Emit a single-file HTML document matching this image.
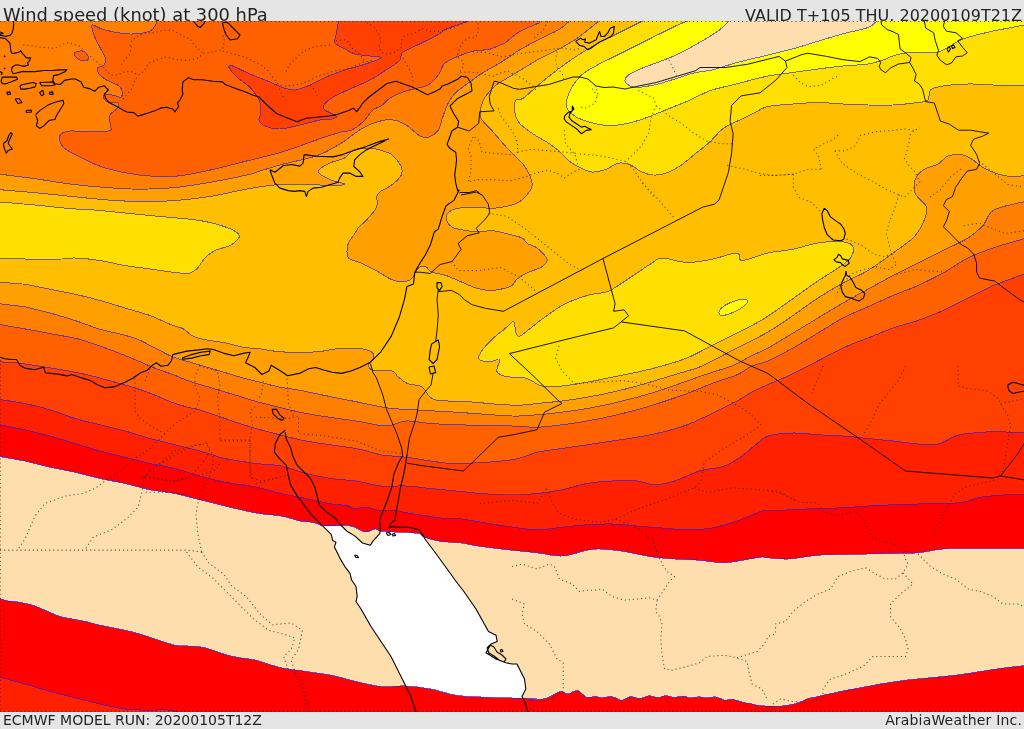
<!DOCTYPE html>
<html><head><meta charset="utf-8"><title>Wind speed (knot) at 300 hPa</title>
<style>
html,body{margin:0;padding:0;background:#e5e5e5;width:1024px;height:729px;overflow:hidden}
.wrap{position:relative;width:1024px;height:729px;background:#e5e5e5;font-family:"DejaVu Sans","Liberation Sans",sans-serif;color:#222}
.t{position:absolute;white-space:nowrap;line-height:1}
svg{position:absolute;left:0;top:0}
</style></head><body><div class="wrap">
<div class="t" style="left:3px;top:6px;font-size:17.85px">Wind speed (knot) at 300 hPa</div>
<div class="t" style="right:2px;top:8px;font-size:16px">VALID T+105 THU. 20200109T21Z</div>
<div class="t" style="left:3px;top:713px;font-size:14px">ECMWF MODEL RUN: 20200105T12Z</div>
<div class="t" style="right:2px;top:713px;font-size:14px;letter-spacing:0.17px">ArabiaWeather Inc.</div>

<svg width="1024" height="729" viewBox="0 0 1024 729">
<defs><clipPath id="m"><rect x="0" y="21" width="1024" height="691"/></clipPath>
<clipPath id="c10"><path d="M-6 455.5L25 461C29.2 462 41.7 465.4 50 467.2C58.3 469.1 66.7 470.4 75 472.2C83.3 474.1 91.7 476.6 100 478.5C108.3 480.4 116.7 481.6 125 483.5C133.3 485.4 141.7 488.1 150 489.8C158.3 491.4 166.7 491.8 175 493.5C183.3 495.2 191.7 497.7 200 499.8C208.3 501.8 215.7 503.8 225 506C234.3 508.2 246.7 511.3 256 513C265.3 514.7 273.7 514.7 281 516C288.3 517.3 295.3 520 300 521C304.7 522 306.8 521.5 309.4 521.9C312 522.2 313.3 522.5 315.6 523.1C317.9 523.8 319.5 525.3 323.4 525.8C327.3 526.2 335.1 525.9 339 525.8C342.9 525.7 344.3 525 346.9 525.3C349.5 525.5 351.6 526.2 354.7 527.3C357.8 528.4 362.2 531.7 365.6 532C369 532.3 372.4 529 375 528.9C377.6 528.8 378.1 530.7 381.2 531.2C384.4 531.8 389.1 531.7 393.8 532C398.4 532.3 405.2 532.5 409.4 532.8C413.6 533.1 416.1 532.8 418.8 533.6C421.4 534.4 421.4 536.2 425 537.5C428.6 538.8 434.8 540.5 440.6 541.4C446.4 542.3 453.3 541.9 460 542.8C466.7 543.6 472.3 545.3 481 546.5C489.7 547.7 502.7 549.2 512 550.2C521.3 551.3 528.7 551.8 537 552.8C545.3 553.7 553.7 556.4 562 556C570.3 555.6 580.8 551.4 587 550.2C593.2 549.1 593.2 548.8 599.5 549C605.8 549.2 616.2 550.2 624.5 551.5C632.8 552.8 641.2 555.2 649.5 556.5C657.8 557.8 666.2 558.4 674.5 559C682.8 559.6 691.2 559.6 699.5 560.2C707.8 560.9 716.2 563 724.5 562.8C732.8 562.5 743.2 560 749.5 559C755.8 558 758.9 557.2 762 557C765.1 556.8 763.7 557.4 768 557.8C772.3 558.1 779.7 559.4 788 559C796.3 558.6 808.8 556 818 555.2C827.2 554.5 834.7 554.7 843 554.5C851.3 554.3 859.7 554.2 868 554C876.3 553.8 884.7 553.7 893 553.5C901.3 553.3 909.7 553.5 918 552.8C926.3 552 934.7 549.7 943 549C951.3 548.3 959.7 548.6 968 548.5C976.3 548.4 988.8 548.5 993 548.5L1030 548.5L1030 665L1005.5 667.8C1001.3 668.4 988.8 670.2 980.5 671.5C972.2 672.8 963.8 674.2 955.5 675.2C947.2 676.3 938.8 676.9 930.5 677.8C922.2 678.6 913.8 679.2 905.5 680.2C897.2 681.3 888.8 682.6 880.5 684C872.2 685.4 861.7 687.6 856 688.6C850.3 689.6 849.4 689.6 846.1 690.3C842.8 690.9 839.4 691.8 836.1 692.5C832.8 693.2 829.5 693.9 826.2 694.6C822.9 695.3 819.2 696.2 816.2 696.9C813.2 697.6 810.7 697.7 807.9 698.6C805.1 699.5 802.6 701.4 799.6 702.4C796.6 703.4 792.9 704.3 789.6 704.9C786.3 705.5 783 706 779.7 706.2C776.4 706.4 773 706.2 769.7 706.1C766.4 706 763.1 706.1 759.8 705.7C756.5 705.3 752.6 704.2 749.8 703.6C747 703 745.4 703 743.2 702.4C741 701.8 738.5 700.8 736.5 700.3C734.5 699.8 733.4 699.3 731.5 699.3C729.6 699.3 726.8 700.5 724.9 700.3C723 700.1 721.6 698.9 719.9 698.3C718.2 697.7 717.1 697 714.9 696.9C712.7 696.8 709.1 697.9 706.6 697.9C704.1 697.9 702 697 700 696.9C698 696.8 696.1 697.2 694.3 697.4C692.5 697.6 691 698.1 689.4 697.9C687.8 697.7 686.1 696.5 684.4 696.3C682.7 696.1 681.1 696.4 679.4 696.6C677.7 696.8 676.1 697.5 674.4 697.4C672.7 697.3 671 696.6 669.4 696.3C667.8 696 666.1 695.6 664.5 695.8C662.9 696 661.2 697.2 659.5 697.4C657.8 697.6 656.2 697.2 654.5 696.9C652.8 696.6 650.9 695.8 649.5 695.8C648.1 695.8 647.6 696.2 646.2 696.6C644.8 697 642.9 698.1 641.2 698.3C639.5 698.5 637.9 698.2 636.2 697.9C634.6 697.6 632.9 696.5 631.3 696.6C629.6 696.7 628 697.7 626.3 698.3C624.6 698.9 623 700.3 621.3 700.3C619.6 700.3 618 698.9 616.3 698.3C614.6 697.7 612.9 696.8 611.3 696.6C609.6 696.4 608 696.9 606.4 697.1C604.8 697.3 603.1 698 601.4 697.9C599.7 697.8 598.1 696.7 596.4 696.6C594.7 696.5 593.1 697 591.4 697.1C589.7 697.2 588 698 586.4 697.4C584.8 696.8 582.9 694.4 581.5 693.3C580.1 692.2 579.5 691.1 578.1 690.8C576.7 690.5 574.9 691 573.2 691.6C571.6 692.2 569.9 694 568.2 694.1C566.5 694.2 564.6 692.4 563.2 692C561.8 691.6 561.6 691.1 559.9 691.6C558.2 692.1 555.4 693.8 553.2 694.9C551 696 549.1 697.5 546.6 698.3C544.1 699.1 541.1 699.3 538.3 699.6C535.5 699.9 530.2 700 530 699.9C529.8 699.8 540 699.3 537 699C534 698.7 521.3 698.3 512 698C502.7 697.7 490.3 697.5 481 697C471.7 696.5 464.3 696.6 456 695.2C447.7 693.9 439.3 690.5 431 689C422.7 687.5 414.3 686.4 406 686C397.7 685.6 389.3 687.2 381 686.5C372.7 685.8 364.3 683.4 356 681.5C347.7 679.6 339.3 676.9 331 675.2C322.7 673.6 314.3 672.8 306 671.5C297.7 670.2 289.3 669.6 281 667.8C272.7 665.9 262.8 661.9 256 660.2C249.2 658.6 245.2 658.7 240 657.8C234.8 656.8 230.8 656.2 225 654.5C219.2 652.8 211.2 649.2 205 647.8C198.8 646.3 192.5 646.4 187.5 646C182.5 645.6 180.4 646.4 175 645.2C169.6 644.1 160.8 640.9 155 639C149.2 637.1 145 635.5 140 634C135 632.5 131.7 631.7 125 630.2C118.3 628.8 106.2 626.6 100 625.2C93.8 623.9 91.7 623 87.5 622C83.3 621 79.6 620.4 75 619.5C70.4 618.6 65 618 60 616.5C55 615 49.6 612.1 45 610.2C40.4 608.4 37.1 606.6 32.5 605.2C27.9 603.9 21.7 602.7 17.5 602C13.3 601.3 9.2 601.2 7.5 601L-6 597L-6 455.5Z"/></clipPath></defs>
<g clip-path="url(#m)">
<rect x="0" y="0" width="1024" height="729" fill="#FF8000"/>
<path fill="#FF6000" d="M157.5 12L157.5 19C157.2 19.8 157.2 22 156 24C154.8 26 154.3 29.3 150 31C145.7 32.7 137.5 34.2 130 34C122.5 33.8 111.2 31.5 105 30C98.8 28.5 95.2 25.3 93 25C90.8 24.7 91.7 25.9 92 28C92.3 30.1 93.7 34.2 95 37.5C96.3 40.8 98.3 44.1 100 47.5C101.7 50.9 104.5 55.1 105.2 58C105.9 60.9 105.4 63.3 104.1 64.9C102.8 66.5 98.4 66.3 97.5 67.7C96.6 69.1 97.5 71.4 98.6 73.2C99.7 75 101.7 77 104.1 78.6C106.5 80.2 110.3 81.7 112.9 83C115.5 84.3 118 84.8 119.5 86.3C121 87.8 122 90 122.2 91.8C122.4 93.6 122.1 96.8 120.6 97.3C119 97.8 115.7 95.5 112.9 95.1C110.2 94.7 105.6 94.6 104.1 95.1C102.5 95.5 103 96.7 103.6 97.8C104.1 98.9 105.3 101 107.4 101.7C109.5 102.4 114.3 101.8 116.2 102.2C118.1 102.7 118.9 103.2 118.9 104.4C118.9 105.6 117.6 107.9 116.2 109.4C114.8 111 111.9 112.1 110.7 113.7C109.5 115.3 109.1 117.2 109.1 119.2C109.1 121.2 110.9 123.8 110.7 125.8C110.5 127.8 113.1 130.1 108 131C102.9 131.9 86.3 131.3 80 131.3C73.7 131.3 73.2 130.6 70 131C66.8 131.4 62.7 132.5 61 134C59.3 135.5 59.3 137.7 59.8 140C60.3 142.3 60.5 145.1 64 148C67.5 150.9 74 154.2 80.9 157.6C87.8 160.9 95.5 165.2 105.5 168.1C115.5 171 128.9 173.8 140.6 175.2C152.3 176.5 164.1 177.1 175.8 176.2C187.5 175.3 199.3 172.4 211 169.9C222.7 167.4 234.4 164 246.1 161.1C257.8 158.2 269.6 155.8 281.3 152.3C293 148.8 306.7 143.3 316.5 140C326.3 136.7 334.1 134 340 132.3C345.9 130.6 347.8 131.8 351.7 130C355.6 128.2 359.9 125 363.4 121.7C366.9 118.4 369.9 112.6 372.8 110C375.7 107.4 378 108.1 381 106C384 103.9 386.8 100 391 97.5C395.2 95 400.2 92.9 406 91C411.8 89.1 421.5 87.7 426 86C430.5 84.3 430.8 83 433 81C435.2 79 437.2 76.8 439 74C440.8 71.2 441.7 66.6 444 64C446.3 61.4 448 60.7 453 58.5C458 56.3 468 52.5 474 51C480 49.5 484.7 50.5 489 49.5C493.3 48.5 497.3 46.1 500 45C502.7 43.9 501.8 45.2 505 43C508.2 40.8 513.8 35 519.5 31.7C525.2 28.4 535.8 24.4 539 23L543 12L157.5 12ZM75 52.5C76.2 51.7 80.4 50.6 82.5 51C84.6 51.4 86.7 53.5 87.5 55C88.3 56.5 88.8 59.2 87.5 60C86.2 60.8 82.1 60.7 80 60C77.9 59.3 75.8 57.2 75 56C74.2 54.8 73.8 53.3 75 52.5ZM-6 323.5L31.2 330C35.2 330.8 46.9 332.9 55 334.5C63.1 336.1 70.9 336.9 80 339.4C89.1 341.9 101.9 346.7 109.4 349.4C116.9 352.1 119.8 353.4 125 355.5C130.2 357.6 135.3 359.8 140.6 362C145.9 364.2 151.7 366.9 157 369C162.3 371.1 167.1 372.4 172.7 374.5C178.2 376.6 184.4 379.4 190.3 381.5C196.2 383.6 202 385 207.9 386.8C213.8 388.6 219.7 390.4 225.5 392.1C231.3 393.9 237.2 395.6 243 397.3C248.8 399.1 250.1 399.9 260.6 402.6C271.1 405.3 290.1 410.4 306 413.5C321.9 416.6 342.7 418.9 356 421C369.3 423.1 377.7 426 386 426C394.3 426 398.5 421.4 406 421C413.5 420.6 422.7 422.9 431 423.5C439.3 424.1 442.5 424.3 456 424.8C469.5 425.2 498.5 425.6 512 426C525.5 426.4 528.7 427.5 537 427.2C545.3 427 553.7 425.8 562 424.8C570.3 423.7 578.7 422.5 587 421C595.3 419.5 603.7 417.9 612 416C620.3 414.1 628.7 412 637 409.8C645.3 407.5 653.7 405 662 402.2C670.3 399.5 678.7 396.6 687 393.5C695.3 390.4 703.7 386.6 712 383.5C720.3 380.4 730.3 377.7 737 374.8C743.7 371.8 746.8 368.3 752 366C757.2 363.7 761.2 364 768 361C774.8 358 784.7 352.7 793 348C801.3 343.3 809.7 338 818 333C826.3 328 834.7 322.4 843 318C851.3 313.6 859.7 310.5 868 306.8C876.3 303 884.7 299 893 295.5C901.3 292 909.7 289.2 918 285.5C926.3 281.8 934.7 277.6 943 273C951.3 268.4 959.7 262.2 968 258C976.3 253.8 984.7 250.9 993 248C1001.3 245.1 1013.8 241.8 1018 240.5L1030 237L1030 718L-6 718L-6 323.5Z"/>
<path fill="#FF4000" d="M338.8 12L338.8 20C338.3 22.5 336.6 31.2 336 35C335.4 38.8 333.5 40.7 335 43C336.5 45.3 341.7 47.2 345 49C348.3 50.8 350.8 52.8 355 54C359.2 55.2 365.7 55.3 370 56C374.3 56.7 382.2 56.5 381 58C379.8 59.5 368.5 63 362.5 65C356.5 67 351.2 67.9 345 70C338.8 72.1 330.8 75 325 77.5C319.2 80 315 82.9 310 85C305 87.1 299.6 89.6 295 90C290.4 90.4 287.1 89 282.5 87.5C277.9 86 272.9 83.2 267.5 81C262.1 78.8 255.8 76.5 250 74C244.2 71.5 236 67.1 232.5 66C229 64.9 228.2 65.6 229 67.5C229.8 69.4 234 74.2 237.5 77.5C241 80.8 246.4 83.8 250 87.5C253.6 91.2 257.2 95.8 259 100C260.8 104.2 261 109.2 261 112.5C261 115.8 258.3 117.8 259 120C259.7 122.2 261.5 124.5 265 126C268.5 127.5 274.2 129.2 280 129C285.8 128.8 293.3 126.5 300 125C306.7 123.5 314.6 121 320 120C325.4 119 329.8 119.7 332.5 119C335.2 118.3 337.2 117.5 336 116C334.8 114.5 327 111.8 325 110C323 108.2 322.8 107.1 324 105C325.2 102.9 328.2 100.2 332.5 97.5C336.8 94.8 343.8 91.9 350 89C356.2 86.1 363.3 83.6 370 80C376.7 76.4 385 70.8 390 67.5C395 64.2 397.9 62.5 400 60C402.1 57.5 399.6 55 402.5 52.5C405.4 50 411.7 47.9 417.5 45C423.3 42.1 432.8 37.6 437.5 35C442.2 32.4 442.2 31.1 445.6 29.4C449 27.7 454.1 26.1 458 24.7C461.9 23.3 467.2 21.4 469 20.8L470 12L338.8 12ZM-6 361.5L15.6 362.7C20.8 363.5 36.5 365.6 46.9 367.3C57.3 369 67.7 370.6 78.1 372.8C88.5 375 99.1 377.8 109.4 380.6C119.7 383.4 132.1 386.9 140 389.5C147.9 392.1 151.6 393.8 157 396C162.4 398.2 167.1 400.6 172.7 402.6C178.2 404.6 185.8 406.7 190.3 407.9C194.9 409.1 194.2 408.2 200 410C205.8 411.8 215.7 415.4 225 418.5C234.3 421.6 242.5 424.8 256 428.5C269.5 432.2 289.3 437.7 306 441C322.7 444.3 343.5 446.2 356 448.5C368.5 450.8 372.7 453.3 381 454.8C389.3 456.2 397.7 456.2 406 457.2C414.3 458.3 422.7 460 431 461C439.3 462 442.5 463.7 456 463.5C469.5 463.3 498.5 461.6 512 459.8C525.5 457.9 528.7 454.1 537 452.2C545.3 450.4 553.7 449.8 562 448.5C570.3 447.2 578.7 446 587 444.8C595.3 443.5 603.7 442.2 612 441C620.3 439.8 628.7 438.7 637 437.2C645.3 435.8 653.7 434.3 662 432.2C670.3 430.2 678.7 427.9 687 424.8C695.3 421.6 703.7 417.5 712 413.5C720.3 409.5 730.3 404.6 737 401C743.7 397.4 746.8 394.8 752 392C757.2 389.2 762 387.2 768 384.5C774 381.8 781.3 379.1 788 376C794.7 372.9 798.8 370.7 808 366C817.2 361.3 833 352.7 843 348C853 343.3 859.7 341.3 868 338C876.3 334.7 884.7 330.9 893 328C901.3 325.1 909.7 323.4 918 320.5C926.3 317.6 934.7 314.2 943 310.5C951.3 306.8 959.7 302.2 968 298C976.3 293.8 988.8 287.6 993 285.5L1030 272L1030 718L-6 718L-6 361.5Z"/>
<path fill="#FF2000" d="M-6 398.5L25 403.5C29.2 404.5 41.7 407.2 50 409.8C58.3 412.2 66.7 416 75 418.5C83.3 421 91.7 422.7 100 424.8C108.3 426.8 116.7 428.7 125 431C133.3 433.3 141.7 436.2 150 438.5C158.3 440.8 166.7 442.7 175 444.8C183.3 446.8 191.7 448.7 200 451C208.3 453.3 215.7 456.4 225 458.5C234.3 460.6 246.7 462.2 256 463.5C265.3 464.8 272.7 464.3 281 466C289.3 467.7 297.7 471.4 306 473.5C314.3 475.6 322.7 477.2 331 478.5C339.3 479.8 347.7 479.8 356 481C364.3 482.2 372.7 485.2 381 486C389.3 486.8 397.7 485.6 406 486C414.3 486.4 422.7 487.7 431 488.5C439.3 489.3 447.7 490.2 456 491C464.3 491.8 471.7 492.8 481 493.5C490.3 494.2 502.7 495 512 495C521.3 495 528.7 494.4 537 493.5C545.3 492.6 553.7 491.4 562 489.8C570.3 488.1 578.7 485 587 483.5C595.3 482 603.7 481.4 612 481C620.3 480.6 629.9 480.4 637 481C644.1 481.6 648.2 484.8 654.5 484.8C660.8 484.8 667 483.3 674.5 481C682 478.7 691.2 473.5 699.5 471C707.8 468.5 717.4 468.5 724.5 466C731.6 463.5 736.6 459.8 742 456C747.4 452.2 752.7 446.8 757 443.5C761.3 440.2 762 437.8 768 436C774 434.2 784.7 433.2 793 433C801.3 432.8 809.7 434.2 818 434.8C826.3 435.2 834.7 435.4 843 436C851.3 436.6 859.7 437.7 868 438.5C876.3 439.3 884.7 440.1 893 441C901.3 441.9 910.5 443.5 918 444C925.5 444.5 931.8 445.3 938 444C944.2 442.7 950.5 437.8 955.5 436C960.5 434.2 961.8 434.2 968 433.5C974.2 432.8 988.8 431.8 993 431.5L1030 433L1030 718L-6 718L-6 398.5Z"/>
<path fill="#FF0000" d="M-6 423.5L25 429.8C29.2 430.8 41.7 433.7 50 436C58.3 438.3 66.7 441 75 443.5C83.3 446 91.7 448.7 100 451C108.3 453.3 116.7 455.2 125 457.2C133.3 459.3 141.7 461.6 150 463.5C158.3 465.4 166.7 466.4 175 468.5C183.3 470.6 191.7 473.7 200 476C208.3 478.3 215.7 480.4 225 482.2C234.3 484.1 246.7 485.1 256 487C265.3 488.9 272.7 491.6 281 493.5C289.3 495.4 297.7 496.8 306 498.5C314.3 500.2 324.2 502.7 331 503.9C337.8 505.1 342.9 504.7 346.9 505.5C350.8 506.3 351.6 508.4 354.7 508.6C357.8 508.9 361.7 506.7 365.6 507C369.5 507.3 373.3 509.7 378 510.2C382.7 510.7 388.5 509.7 393.8 510.2C399 510.7 404.2 512.4 409.4 513.3C414.6 514.2 419.8 514.8 425 515.6C430.2 516.4 434.8 517.5 440.6 518C446.4 518.5 453.3 518 460 518.8C466.7 519.5 472.3 520.9 481 522.2C489.7 523.6 502.7 525.8 512 527C521.3 528.2 528.7 529.7 537 529.8C545.3 529.8 553.7 528.1 562 527.2C570.3 526.4 578.7 525.3 587 524.8C595.3 524.2 603.7 523.8 612 524C620.3 524.2 628.7 525.3 637 526C645.3 526.7 653.7 527.4 662 528C670.3 528.6 678.7 529.8 687 529.8C695.3 529.8 703.7 529.5 712 528C720.3 526.5 728.7 523.8 737 521C745.3 518.2 756.8 512.8 762 511C767.2 509.2 762.8 510.7 768 510.5C773.2 510.3 784.7 510.1 793 509.8C801.3 509.4 809.7 508.8 818 508.5C826.3 508.2 834.7 508.2 843 507.8C851.3 507.3 859.7 506.5 868 506C876.3 505.5 884.7 505.1 893 504.8C901.3 504.4 909.7 504.2 918 504C926.3 503.8 935.5 503.8 943 503.5C950.5 503.2 956.8 503.3 963 502.2C969.2 501.2 973.4 498.5 980.5 497.2C987.6 496 1001.3 495.2 1005.5 494.8L1030 494L1030 718L180 718L177.5 712C175.4 711.6 169.6 710 165 709.8C160.4 709.5 156.7 710.4 150 710.2C143.3 710.1 133.3 710 125 709C116.7 708 108.3 705.9 100 704C91.7 702.1 83.3 699.8 75 697.8C66.7 695.7 58.3 693.8 50 691.5C41.7 689.2 29.2 685.2 25 684L-6 675.5L-6 423.5Z"/>
<path fill="#FFDEAD" d="M-6 455.5L25 461C29.2 462 41.7 465.4 50 467.2C58.3 469.1 66.7 470.4 75 472.2C83.3 474.1 91.7 476.6 100 478.5C108.3 480.4 116.7 481.6 125 483.5C133.3 485.4 141.7 488.1 150 489.8C158.3 491.4 166.7 491.8 175 493.5C183.3 495.2 191.7 497.7 200 499.8C208.3 501.8 215.7 503.8 225 506C234.3 508.2 246.7 511.3 256 513C265.3 514.7 273.7 514.7 281 516C288.3 517.3 295.3 520 300 521C304.7 522 306.8 521.5 309.4 521.9C312 522.2 313.3 522.5 315.6 523.1C317.9 523.8 319.5 525.3 323.4 525.8C327.3 526.2 335.1 525.9 339 525.8C342.9 525.7 344.3 525 346.9 525.3C349.5 525.5 351.6 526.2 354.7 527.3C357.8 528.4 362.2 531.7 365.6 532C369 532.3 372.4 529 375 528.9C377.6 528.8 378.1 530.7 381.2 531.2C384.4 531.8 389.1 531.7 393.8 532C398.4 532.3 405.2 532.5 409.4 532.8C413.6 533.1 416.1 532.8 418.8 533.6C421.4 534.4 421.4 536.2 425 537.5C428.6 538.8 434.8 540.5 440.6 541.4C446.4 542.3 453.3 541.9 460 542.8C466.7 543.6 472.3 545.3 481 546.5C489.7 547.7 502.7 549.2 512 550.2C521.3 551.3 528.7 551.8 537 552.8C545.3 553.7 553.7 556.4 562 556C570.3 555.6 580.8 551.4 587 550.2C593.2 549.1 593.2 548.8 599.5 549C605.8 549.2 616.2 550.2 624.5 551.5C632.8 552.8 641.2 555.2 649.5 556.5C657.8 557.8 666.2 558.4 674.5 559C682.8 559.6 691.2 559.6 699.5 560.2C707.8 560.9 716.2 563 724.5 562.8C732.8 562.5 743.2 560 749.5 559C755.8 558 758.9 557.2 762 557C765.1 556.8 763.7 557.4 768 557.8C772.3 558.1 779.7 559.4 788 559C796.3 558.6 808.8 556 818 555.2C827.2 554.5 834.7 554.7 843 554.5C851.3 554.3 859.7 554.2 868 554C876.3 553.8 884.7 553.7 893 553.5C901.3 553.3 909.7 553.5 918 552.8C926.3 552 934.7 549.7 943 549C951.3 548.3 959.7 548.6 968 548.5C976.3 548.4 988.8 548.5 993 548.5L1030 548.5L1030 665L1005.5 667.8C1001.3 668.4 988.8 670.2 980.5 671.5C972.2 672.8 963.8 674.2 955.5 675.2C947.2 676.3 938.8 676.9 930.5 677.8C922.2 678.6 913.8 679.2 905.5 680.2C897.2 681.3 888.8 682.6 880.5 684C872.2 685.4 861.7 687.6 856 688.6C850.3 689.6 849.4 689.6 846.1 690.3C842.8 690.9 839.4 691.8 836.1 692.5C832.8 693.2 829.5 693.9 826.2 694.6C822.9 695.3 819.2 696.2 816.2 696.9C813.2 697.6 810.7 697.7 807.9 698.6C805.1 699.5 802.6 701.4 799.6 702.4C796.6 703.4 792.9 704.3 789.6 704.9C786.3 705.5 783 706 779.7 706.2C776.4 706.4 773 706.2 769.7 706.1C766.4 706 763.1 706.1 759.8 705.7C756.5 705.3 752.6 704.2 749.8 703.6C747 703 745.4 703 743.2 702.4C741 701.8 738.5 700.8 736.5 700.3C734.5 699.8 733.4 699.3 731.5 699.3C729.6 699.3 726.8 700.5 724.9 700.3C723 700.1 721.6 698.9 719.9 698.3C718.2 697.7 717.1 697 714.9 696.9C712.7 696.8 709.1 697.9 706.6 697.9C704.1 697.9 702 697 700 696.9C698 696.8 696.1 697.2 694.3 697.4C692.5 697.6 691 698.1 689.4 697.9C687.8 697.7 686.1 696.5 684.4 696.3C682.7 696.1 681.1 696.4 679.4 696.6C677.7 696.8 676.1 697.5 674.4 697.4C672.7 697.3 671 696.6 669.4 696.3C667.8 696 666.1 695.6 664.5 695.8C662.9 696 661.2 697.2 659.5 697.4C657.8 697.6 656.2 697.2 654.5 696.9C652.8 696.6 650.9 695.8 649.5 695.8C648.1 695.8 647.6 696.2 646.2 696.6C644.8 697 642.9 698.1 641.2 698.3C639.5 698.5 637.9 698.2 636.2 697.9C634.6 697.6 632.9 696.5 631.3 696.6C629.6 696.7 628 697.7 626.3 698.3C624.6 698.9 623 700.3 621.3 700.3C619.6 700.3 618 698.9 616.3 698.3C614.6 697.7 612.9 696.8 611.3 696.6C609.6 696.4 608 696.9 606.4 697.1C604.8 697.3 603.1 698 601.4 697.9C599.7 697.8 598.1 696.7 596.4 696.6C594.7 696.5 593.1 697 591.4 697.1C589.7 697.2 588 698 586.4 697.4C584.8 696.8 582.9 694.4 581.5 693.3C580.1 692.2 579.5 691.1 578.1 690.8C576.7 690.5 574.9 691 573.2 691.6C571.6 692.2 569.9 694 568.2 694.1C566.5 694.2 564.6 692.4 563.2 692C561.8 691.6 561.6 691.1 559.9 691.6C558.2 692.1 555.4 693.8 553.2 694.9C551 696 549.1 697.5 546.6 698.3C544.1 699.1 541.1 699.3 538.3 699.6C535.5 699.9 530.2 700 530 699.9C529.8 699.8 540 699.3 537 699C534 698.7 521.3 698.3 512 698C502.7 697.7 490.3 697.5 481 697C471.7 696.5 464.3 696.6 456 695.2C447.7 693.9 439.3 690.5 431 689C422.7 687.5 414.3 686.4 406 686C397.7 685.6 389.3 687.2 381 686.5C372.7 685.8 364.3 683.4 356 681.5C347.7 679.6 339.3 676.9 331 675.2C322.7 673.6 314.3 672.8 306 671.5C297.7 670.2 289.3 669.6 281 667.8C272.7 665.9 262.8 661.9 256 660.2C249.2 658.6 245.2 658.7 240 657.8C234.8 656.8 230.8 656.2 225 654.5C219.2 652.8 211.2 649.2 205 647.8C198.8 646.3 192.5 646.4 187.5 646C182.5 645.6 180.4 646.4 175 645.2C169.6 644.1 160.8 640.9 155 639C149.2 637.1 145 635.5 140 634C135 632.5 131.7 631.7 125 630.2C118.3 628.8 106.2 626.6 100 625.2C93.8 623.9 91.7 623 87.5 622C83.3 621 79.6 620.4 75 619.5C70.4 618.6 65 618 60 616.5C55 615 49.6 612.1 45 610.2C40.4 608.4 37.1 606.6 32.5 605.2C27.9 603.9 21.7 602.7 17.5 602C13.3 601.3 9.2 601.2 7.5 601L-6 597L-6 455.5Z"/>
<path fill="#fff" clip-path="url(#c10)" d="M300 503L307.8 509.4L315.6 518.8L323.4 526.6L331.2 534.4L332.8 540.6L336 542.2L334.4 546.9L336.7 551.6L340.6 559.4L345.3 567.2L350 573.4L351.6 580L356 586.5L357.2 596.5L356 601.5L361 609L371 626.5L381 641.5L391 656.5L398.5 671.5L406 686.5L411 696.5L416 712L416 730L540 730L524.5 701.5L522 696.5L525.8 689L524.5 679L517 664L512 664L506 662.8L496 659L486 652.8L491 644L497.2 641.5L496 635.2L488.5 631.5L476 609L463.5 591L455 580L445 566L434 551L425 539L421.9 533.6L418.8 529.7L409.4 527.3L400 527.3L392.2 526.6L389 528.1L390.6 523.4L395.3 515.6L399.2 506.2L398.4 490L387.5 490L386 504.7L381.2 512.5L379.7 517.2L380.5 528.1L379.7 533.6L373.4 540.6L370.3 545.3L362.5 543L354.7 535.9L346.9 531.2L340.6 525L335.9 518.8L328.1 512.5L320.3 504.7L318.8 495L300 495L300 503Z"/>
<path fill="#FF9F00" d="M-6 173.4L35.2 178.7C41.1 179.6 58.6 182.5 70.3 184C82 185.5 93.8 186.6 105.5 187.5C117.2 188.4 128.9 189.2 140.6 189.2C152.3 189.2 164.1 188.7 175.8 187.5C187.5 186.3 199.3 184.2 211 182.2C222.7 180.1 237.3 177.2 246.1 175.2C254.9 173.1 257.8 171.7 263.7 169.9C269.6 168.1 272.5 166.9 281.3 164.6C290.1 162.2 306.7 159.2 316.5 155.8C326.3 152.4 332.2 148.7 340 144C347.8 139.3 356.4 131.5 363.4 127.6C370.4 123.7 376.7 121.7 382.2 120.5C387.7 119.3 391.9 119.5 396.2 120.5C400.5 121.5 404.1 123.9 408 126.4C411.9 129 416.2 134 419.7 135.8C423.2 137.6 425.9 138 429 137C432.1 136 436.2 132.9 438.4 130C440.6 127.1 440.7 123.1 442 119.4C443.3 115.7 444.7 111.2 446 108C447.3 104.8 448.2 102.7 450 100C451.8 97.3 453.3 94.9 456.5 92C459.7 89.1 464.3 85.9 469 82.5C473.7 79.1 479.5 74.8 484.7 71.6C489.9 68.3 494.2 66.6 500 63C505.8 59.4 513 53.9 519.5 50C526 46.1 532.5 42.9 539 39.5C545.5 36.1 553.7 32.7 558.6 29.8C563.5 26.9 566.8 23.3 568.4 22L571 12L1030 12L1030 200.5L1018 203C1013.8 204.2 998.8 206.8 993 210.5C987.2 214.2 987.2 220.9 983 225.5C978.8 230.1 974.7 233.8 968 238C961.3 242.2 951.3 246.3 943 250.5C934.7 254.7 926.3 258.8 918 263C909.7 267.2 901.3 271.1 893 275.5C884.7 279.9 876.3 284.7 868 289.2C859.7 293.8 851.3 298.2 843 303C834.7 307.8 826.3 313 818 318C809.7 323 801.3 328 793 333C784.7 338 774.8 344.2 768 348C761.2 351.8 758 352.5 752 355.5C746 358.5 738.7 363.2 732 366C725.3 368.8 719.5 369.8 712 372.2C704.5 374.8 695.3 378.1 687 381C678.7 383.9 670.3 387 662 389.8C653.7 392.5 645.3 395 637 397.2C628.7 399.5 620.3 401.6 612 403.5C603.7 405.4 595.3 407 587 408.5C578.7 410 570.3 411.2 562 412.2C553.7 413.3 545.3 414.1 537 414.8C528.7 415.4 525.5 416.4 512 416C498.5 415.6 471.7 413.2 456 412.2C440.3 411.2 428.9 410.7 417.6 410C406.3 409.3 397.8 409.3 388 408C378.2 406.7 370.3 404.6 359 402.3C347.7 400.1 329.8 396.5 320 394.5C310.2 392.5 307 391.6 300 390.3C293 389 284.8 388.1 278.2 386.8C271.6 385.5 266.5 383.9 260.6 382.4C254.7 380.9 248.8 379.6 243 378C237.2 376.4 231.3 374.4 225.5 372.7C219.7 370.9 213.8 369.2 207.9 367.5C202 365.8 196.2 364 190.3 362.2C184.4 360.4 178.5 359.2 172.7 356.9C166.8 354.5 161 351 155.2 348.1C149.3 345.2 143.5 341.7 137.6 339.3C131.7 336.9 126.3 335.7 120 334C113.7 332.3 107.5 331.5 100 329.2C92.5 327 83.3 323.2 75 320.5C66.7 317.8 58.3 315.3 50 313C41.7 310.7 29.2 307.8 25 306.8L-6 303L-6 173.4Z"/>
<path fill="#FFBF00" d="M-6 189.2L35.2 192.7C41.1 193.3 58.6 195.1 70.3 196.3C82 197.5 93.8 198.9 105.5 199.8C117.2 200.7 128.9 201.4 140.6 201.5C152.3 201.6 164.1 201.4 175.8 200.5C187.5 199.6 199.3 198.2 211 196.3C222.7 194.4 235.5 191.1 246.1 189.2C256.6 187.3 265.5 185.9 274.3 185C283.1 184.1 291.3 184 298.9 184C306.5 184 314.1 184.7 320 185C325.9 185.3 329.8 185.9 334 185.7C338.2 185.5 345.5 184.9 345 184C344.5 183.1 335.4 181.9 331 180C326.6 178.1 319.8 174.8 318.5 172.5C317.2 170.2 321.4 168.1 323.5 166.4C325.6 164.7 327.5 163.9 331 162.5C334.5 161.1 340.8 160.1 344.6 158C348.4 155.9 350.1 151.4 354 149.8C357.9 148.2 364.5 148.7 368 148.5C371.5 148.3 372.2 148.1 375.2 148.7C378.2 149.3 383.3 151 386 152C388.7 153 389.1 152.1 391.6 154.5C394.1 156.9 399.4 162.7 401 166.2C402.6 169.8 402.6 172.5 401 175.6C399.4 178.7 395.1 182.3 391.6 185C388.1 187.7 382.3 190 379.8 192C377.3 194 376.9 195.2 376.5 197C376.1 198.8 377.7 201 377.5 203C377.3 205 376.7 206.9 375.5 209C374.3 211.1 372.5 213.2 370.5 215.5C368.5 217.8 365.5 221.1 363.5 223C361.5 224.9 360.4 225.1 358.8 227.2C357.1 229.3 355.1 233.2 353.5 235.5C351.9 237.8 350.4 239.2 349.4 241.2C348.4 243.3 347.4 245.2 347.2 248C347.1 250.8 346.2 255.5 348.5 258C350.8 260.5 356.4 260.9 361 263C365.6 265.1 371 267.8 376 270.5C381 273.2 386.8 277.4 391 279.2C395.2 281.1 397.7 281.8 401 281.8C404.3 281.8 408.1 281.5 411 279.2C413.9 277 416 270.1 418.5 268C421 265.9 423.9 266.1 426 266.8C428.1 267.4 427.7 270.3 431 271.8C434.3 273.2 441 273.8 446 275.5C451 277.2 456 279.7 461 281.8C466 283.8 471 286.5 476 288C481 289.5 486 290.5 491 290.5C496 290.5 502.5 288.8 506 288C509.5 287.2 510.2 287 512 285.5C513.8 284 514.5 281.3 517 279.2C519.5 277.2 522.8 275.1 527 273C531.2 270.9 538.7 269 542 266.8C545.3 264.5 547.8 262.4 547 259.2C546.2 256.1 540.2 250.6 537 248C533.8 245.4 530 245.3 527.5 243.6C525 241.9 525.1 239.6 522 238C518.9 236.4 513.7 235.4 508.8 234.2C503.8 233 497 231.1 492.3 230.7C487.6 230.3 484.9 231.9 480.6 231.9C476.3 231.9 471.3 231.5 466.6 230.7C461.9 229.9 455.8 229 452.5 227.2C449.2 225.4 447.4 222.4 446.6 220.1C445.8 217.8 446 215 447.8 213.1C449.6 211.2 451.7 209.4 457.2 208.4C462.7 207.4 474.8 207.3 480.6 207.3C486.5 207.3 486.4 209 492.3 208.4C498.2 207.8 509.9 206.1 515.8 203.8C521.7 201.4 524.8 197.5 527.5 194.4C530.2 191.3 531.8 188.1 532.2 185C532.6 181.9 531.4 179.1 529.8 175.6C528.2 172.1 526.3 168.2 522.8 163.9C519.3 159.6 513.8 155.3 508.8 149.8C503.7 144.3 497 136.5 492.3 131C487.6 125.5 482.1 122.2 480.6 117C479.1 111.8 481.4 104.9 483.5 100C485.6 95.1 490.8 90.4 493.5 87.5C496.2 84.6 495.7 85.3 500 82.5C504.3 79.7 513 74.7 519.5 70.8C526 66.9 532.5 62.6 539 59C545.5 55.4 552.1 52.9 558.6 49.3C565.1 45.7 571.5 42.1 578 37.6C584.5 33.1 594.4 24.6 597.7 22L602 12L1030 12L1030 175L1013 177C1010.5 176.5 1003 175.6 998 174C993 172.4 987.2 169.8 983 167.5C978.8 165.2 976.3 162.1 973 160C969.7 157.9 967.2 155.7 963 155C958.8 154.3 952.2 154.5 948 156C943.8 157.5 942.2 161.7 938 164C933.8 166.3 926.8 167.3 923 170C919.2 172.7 916.3 176.2 915 180C913.7 183.8 914.1 189.7 915 193C915.9 196.3 918.5 197.5 920.5 200C922.5 202.5 926.3 204.2 926.8 208C927.2 211.8 925.3 218 923 223C920.7 228 918 233 913 238C908 243 900.5 247.6 893 253C885.5 258.4 876.3 265.5 868 270.5C859.7 275.5 851.3 278.4 843 283C834.7 287.6 826.3 292.6 818 298C809.7 303.4 801.3 309.8 793 315.5C784.7 321.2 777.3 326.6 768 332C758.7 337.4 748 342.3 737 348C726 353.7 710.3 362.2 702 366C693.7 369.8 693.7 368.9 687 371C680.3 373.1 670.3 376 662 378.5C653.7 381 645.3 383.7 637 386C628.7 388.3 620.3 390.4 612 392.2C603.7 394.1 595.3 395.8 587 397.2C578.7 398.7 570.3 400 562 401C553.7 402 544 402.8 537 403.5C530 404.2 526.9 405.1 520 405.2C513.1 405.3 503.1 404.7 495.8 404.2C488.5 403.7 482.8 402.8 476.3 402.3C469.8 401.8 463.2 401.6 456.7 401.3C450.2 401 441.8 401.1 437.2 400.3C432.6 399.5 432 398.7 429.4 396.4C426.8 394.1 425.2 388.7 421.6 386.6C418 384.5 411.8 385.3 407.9 383.7C404 382.1 400.7 379 398.1 376.9C395.5 374.8 396.5 372.1 392.3 371C388.1 369.9 376.6 371.1 372.7 370C368.8 368.9 368.6 366.3 368.8 364.2C369 362.1 373.4 359.4 373.7 357.3C374 355.2 373.2 353 370.8 351.5C368.4 350 364.2 349 359 348.5C353.8 348 346 348 339.5 348.5C333 349 326.6 350.8 320 351.5C313.4 352.2 307 352.5 300 352.5C293 352.5 284.8 352.2 278.2 351.6C271.6 351 266.5 349.7 260.6 349C254.7 348.3 248.8 348.2 243 347.2C237.2 346.2 231.3 344.1 225.5 342.9C219.7 341.7 213.2 341.2 207.9 340.2C202.6 339.2 197.9 338.6 193.8 336.7C189.7 334.8 186.8 330.7 183.3 328.8C179.8 326.9 176.5 326.8 172.7 325.3C168.9 323.8 164.2 321.6 160.4 320C156.6 318.4 155.9 317.5 150 315.5C144.1 313.5 133.3 310.5 125 308C116.7 305.5 108.3 302.8 100 300.5C91.7 298.2 83.3 296.1 75 294.2C66.7 292.4 58.3 290.9 50 289.2C41.7 287.6 29.2 285.1 25 284.2L-6 281.8L-6 189.2Z"/>
<path fill="#FFDF00" d="M-6 201.5L35.2 205C41.1 205.6 59.5 207.7 70.3 208.6C81.1 209.5 86.7 209.3 100 210.5C113.3 211.7 133.3 213.8 150 215.5C166.7 217.2 187.5 218.6 200 220.5C212.5 222.4 218.8 224.7 225 226.8C231.2 228.8 235.2 231.1 237.5 233C239.8 234.9 240 235.9 238.8 238C237.5 240.1 234 243.4 230 245.5C226 247.6 219.2 248.4 215 250.5C210.8 252.6 207.9 255.1 205 258C202.1 260.9 200 265.5 197.5 268C195 270.5 193.8 272.2 190 273C186.2 273.8 181.7 273.2 175 272.5C168.3 271.8 158.3 270.2 150 269C141.7 267.8 133.3 266.9 125 265.5C116.7 264.1 108.3 261.8 100 260.5C91.7 259.2 81.2 258.2 75 258C68.8 257.8 70.8 258.8 62.5 259C54.2 259.2 31.2 259 25 259L-6 258.5L-6 201.5ZM642.6 12L642.6 21C641.6 21.5 640.9 21.8 636.7 23.9C632.5 26 623.7 30.5 617.2 33.7C610.7 37 604.2 39.8 597.7 43.4C591.2 47 584.5 51 578 55.2C571.5 59.4 565.1 63.9 558.6 68.8C552.1 73.7 544.9 79.6 539 84.5C533.1 89.4 527.2 95.5 523.4 98.1C519.6 100.7 517.5 98.4 516 100C514.5 101.6 513.8 103.9 514.2 107.6C514.6 111.3 515.4 117.8 518.6 122.2C521.8 126.6 528.3 130.6 533.2 134C538.1 137.4 543.5 139.8 547.9 142.7C552.3 145.6 556.2 148.6 559.6 151.5C563 154.4 565.5 157.9 568.4 160.3C571.3 162.8 573.3 164.2 577.2 166.2C581.1 168.1 586.9 171.5 591.8 172C596.7 172.5 602.1 170.6 606.5 169.1C610.9 167.6 614.3 163.9 618.2 163.2C622.1 162.5 626 163.2 629.9 164.7C633.8 166.2 637.8 170.3 641.7 172C645.6 173.7 649.5 174.8 653.4 175C657.3 175.2 660.7 175 665.1 173.5C669.5 172 674.8 169.4 679.7 166.2C684.6 163 689.5 158.4 694.4 154.5C699.3 150.6 704.1 147.1 709 142.7C713.9 138.3 718.3 132 723.7 128.1C729.1 124.2 736.1 121.9 741.3 119.3C746.5 116.7 750.5 114.6 755 112.5C759.5 110.4 761.7 107.9 768 106.5C774.3 105.1 784.7 104.7 793 104C801.3 103.3 809.7 102.5 818 102.5C826.3 102.5 834.7 103.6 843 104C851.3 104.4 859.7 104.8 868 105C876.3 105.2 884.7 105.4 893 105C901.3 104.6 912.2 103.3 918 102.5C923.8 101.7 925.9 102.1 928 100C930.1 97.9 928 92.3 930.5 90C933 87.7 936.8 87 943 86C949.2 85 959.7 84.2 968 84C976.3 83.8 984.7 84.7 993 85C1001.3 85.3 1013.8 85.8 1018 86L1030 85L1030 12L642.6 12ZM503.6 330C500.9 332.3 498.7 333.4 495.8 336C492.9 338.6 488.8 342.4 486 345.6C483.2 348.8 480.2 352.9 479.2 355.4C478.2 357.8 478.1 359.3 480.2 360.3C482.3 361.3 488.6 361.4 491.9 361.2C495.1 361.1 498.9 357.7 499.7 359.3C500.5 360.9 496.1 368.2 496.8 371C497.5 373.8 501.1 375 503.6 376C506.1 377 508.1 376.8 512 377.2C515.9 377.7 522 377 527 378.5C532 380 536.2 384.8 542 386C547.8 387.2 554.5 386.6 562 386C569.5 385.4 578.7 383.7 587 382.2C595.3 380.8 603.7 378.9 612 377.2C620.3 375.6 628.7 374.1 637 372.2C645.3 370.4 653.7 368.4 662 366C670.3 363.6 678.7 361.4 687 358C695.3 354.6 703.7 349.7 712 345.5C720.3 341.3 728.4 337.4 737 333C745.6 328.6 754.5 324.5 763.5 319C772.5 313.5 781.9 306.4 791 300C800.1 293.6 810.5 286 818.3 280.7C826.1 275.4 832.6 271.8 838 268C843.4 264.2 848 261.5 850.5 258C853 254.5 854.2 249.5 853 246.8C851.8 244 848.8 242.4 843 241.8C837.2 241.1 826.3 241.8 818 243C809.7 244.2 801.3 247.6 793 249.2C784.7 250.9 776.5 251.1 768 253C759.5 254.9 747.2 260.5 742 260.5C736.8 260.5 742 253.2 737 253C732 252.8 720.3 257.7 712 259.2C703.7 260.8 695.3 262.7 687 262.5C678.7 262.3 667.8 257.9 662 258C656.2 258.1 656.2 260.5 652 263C647.8 265.5 642 269.7 637 273C632 276.3 627 279.9 622 283C617 286.1 612.8 289.7 607 291.8C601.2 293.8 594.5 293.2 587 295.5C579.5 297.8 570.3 300.9 562 305.5C553.7 310.1 543.8 318 537 323C530.2 328 524.5 333.8 521 335.5C517.5 337.2 517.1 335.1 516 333C514.9 330.9 515.2 324.8 514.5 323C513.8 321.2 513.8 320.8 512 322C510.2 323.2 506.3 327.7 503.6 330Z"/>
<path fill="#FFFF00" d="M566.4 106C565.8 101.8 567.7 95.5 570.3 90.3C572.9 85.1 577.4 78.9 582 74.7C586.6 70.5 591.8 68.2 597.7 64.9C603.6 61.7 610.7 58.5 617.2 55.2C623.7 52 630.2 48.7 636.7 45.4C643.2 42.1 649.7 38.9 656.2 35.6C662.8 32.4 670.6 28.3 675.8 25.9C681 23.5 685.5 21.8 687.5 21L690 12L1030 12L1030 24L993 31C988 32.3 972.2 35.5 963 39C953.8 42.5 947.2 49.8 938 52C928.8 54.2 915.5 51.8 908 52.5C900.5 53.2 897.2 54.8 893 56C888.8 57.2 887.2 58.7 883 60C878.8 61.3 874.7 63 868 64C861.3 65 851.3 65.2 843 66C834.7 66.8 826.3 67.9 818 69C809.7 70.1 801.3 71.3 793 72.5C784.7 73.7 777.3 74.1 768 76C758.7 77.9 746.3 81.4 737 83.8C727.7 86.1 718.2 88.1 712 90C705.8 91.9 704.4 93.2 700 95.2C695.6 97.2 691.2 99.6 685.5 102C679.8 104.4 672.5 107.2 666 109.8C659.5 112.4 653 115.4 646.5 117.7C640 120 633.5 122.2 627 123.5C620.5 124.8 613.9 125.8 607.4 125.5C600.9 125.2 593.4 123.2 587.9 121.6C582.4 120 577.8 118.3 574.2 115.7C570.6 113.1 567 110.2 566.4 106ZM719.5 310.5C720.8 308.4 725.3 304.9 729.5 303C733.7 301.1 741.6 299.2 744.5 299.2C747.4 299.2 748.2 301.1 747 303C745.8 304.9 741.2 308.4 737 310.5C732.8 312.6 724.9 315.5 722 315.5C719.1 315.5 718.2 312.6 719.5 310.5Z"/>
<path fill="#FFDEAD" d="M625 80.5C625 78.7 626.3 76.7 628.9 74.7C631.5 72.8 636.1 70.8 640.6 68.8C645.1 66.8 650.1 65.3 656 63C661.9 60.7 668.5 58.6 675.8 55.2C683 51.8 692.2 46.7 699.5 42.5C706.8 38.3 714.5 33.8 719.5 30C724.5 26.2 727.8 21.7 729.5 20L731 12L880 12L878 20C876.3 21.2 873.8 25.2 868 27.5C862.2 29.8 851.3 31.5 843 33.8C834.7 36 826.3 38.8 818 41.2C809.7 43.8 801.3 46.5 793 48.8C784.7 51 777.3 52.7 768 55C758.7 57.3 746.3 60 737 62.5C727.7 65 719 68.3 712 70C705 71.7 701 71.3 695 72.7C689 74.1 682.5 76.6 676 78.6C669.5 80.6 662.5 83 656 84.5C649.5 86 641.5 87.2 637 87.4C632.5 87.6 631 86.6 629 85.4C627 84.2 625 82.3 625 80.5Z"/>
<g fill="none" stroke="#1818f8" stroke-opacity="0.62" stroke-width="1" shape-rendering="crispEdges">
<path d="M157.5 12L157.5 19C157.2 19.8 157.2 22 156 24C154.8 26 154.3 29.3 150 31C145.7 32.7 137.5 34.2 130 34C122.5 33.8 111.2 31.5 105 30C98.8 28.5 95.2 25.3 93 25C90.8 24.7 91.7 25.9 92 28C92.3 30.1 93.7 34.2 95 37.5C96.3 40.8 98.3 44.1 100 47.5C101.7 50.9 104.5 55.1 105.2 58C105.9 60.9 105.4 63.3 104.1 64.9C102.8 66.5 98.4 66.3 97.5 67.7C96.6 69.1 97.5 71.4 98.6 73.2C99.7 75 101.7 77 104.1 78.6C106.5 80.2 110.3 81.7 112.9 83C115.5 84.3 118 84.8 119.5 86.3C121 87.8 122 90 122.2 91.8C122.4 93.6 122.1 96.8 120.6 97.3C119 97.8 115.7 95.5 112.9 95.1C110.2 94.7 105.6 94.6 104.1 95.1C102.5 95.5 103 96.7 103.6 97.8C104.1 98.9 105.3 101 107.4 101.7C109.5 102.4 114.3 101.8 116.2 102.2C118.1 102.7 118.9 103.2 118.9 104.4C118.9 105.6 117.6 107.9 116.2 109.4C114.8 111 111.9 112.1 110.7 113.7C109.5 115.3 109.1 117.2 109.1 119.2C109.1 121.2 110.9 123.8 110.7 125.8C110.5 127.8 113.1 130.1 108 131C102.9 131.9 86.3 131.3 80 131.3C73.7 131.3 73.2 130.6 70 131C66.8 131.4 62.7 132.5 61 134C59.3 135.5 59.3 137.7 59.8 140C60.3 142.3 60.5 145.1 64 148C67.5 150.9 74 154.2 80.9 157.6C87.8 160.9 95.5 165.2 105.5 168.1C115.5 171 128.9 173.8 140.6 175.2C152.3 176.5 164.1 177.1 175.8 176.2C187.5 175.3 199.3 172.4 211 169.9C222.7 167.4 234.4 164 246.1 161.1C257.8 158.2 269.6 155.8 281.3 152.3C293 148.8 306.7 143.3 316.5 140C326.3 136.7 334.1 134 340 132.3C345.9 130.6 347.8 131.8 351.7 130C355.6 128.2 359.9 125 363.4 121.7C366.9 118.4 369.9 112.6 372.8 110C375.7 107.4 378 108.1 381 106C384 103.9 386.8 100 391 97.5C395.2 95 400.2 92.9 406 91C411.8 89.1 421.5 87.7 426 86C430.5 84.3 430.8 83 433 81C435.2 79 437.2 76.8 439 74C440.8 71.2 441.7 66.6 444 64C446.3 61.4 448 60.7 453 58.5C458 56.3 468 52.5 474 51C480 49.5 484.7 50.5 489 49.5C493.3 48.5 497.3 46.1 500 45C502.7 43.9 501.8 45.2 505 43C508.2 40.8 513.8 35 519.5 31.7C525.2 28.4 535.8 24.4 539 23L543 12L157.5 12ZM75 52.5C76.2 51.7 80.4 50.6 82.5 51C84.6 51.4 86.7 53.5 87.5 55C88.3 56.5 88.8 59.2 87.5 60C86.2 60.8 82.1 60.7 80 60C77.9 59.3 75.8 57.2 75 56C74.2 54.8 73.8 53.3 75 52.5ZM-6 323.5L31.2 330C35.2 330.8 46.9 332.9 55 334.5C63.1 336.1 70.9 336.9 80 339.4C89.1 341.9 101.9 346.7 109.4 349.4C116.9 352.1 119.8 353.4 125 355.5C130.2 357.6 135.3 359.8 140.6 362C145.9 364.2 151.7 366.9 157 369C162.3 371.1 167.1 372.4 172.7 374.5C178.2 376.6 184.4 379.4 190.3 381.5C196.2 383.6 202 385 207.9 386.8C213.8 388.6 219.7 390.4 225.5 392.1C231.3 393.9 237.2 395.6 243 397.3C248.8 399.1 250.1 399.9 260.6 402.6C271.1 405.3 290.1 410.4 306 413.5C321.9 416.6 342.7 418.9 356 421C369.3 423.1 377.7 426 386 426C394.3 426 398.5 421.4 406 421C413.5 420.6 422.7 422.9 431 423.5C439.3 424.1 442.5 424.3 456 424.8C469.5 425.2 498.5 425.6 512 426C525.5 426.4 528.7 427.5 537 427.2C545.3 427 553.7 425.8 562 424.8C570.3 423.7 578.7 422.5 587 421C595.3 419.5 603.7 417.9 612 416C620.3 414.1 628.7 412 637 409.8C645.3 407.5 653.7 405 662 402.2C670.3 399.5 678.7 396.6 687 393.5C695.3 390.4 703.7 386.6 712 383.5C720.3 380.4 730.3 377.7 737 374.8C743.7 371.8 746.8 368.3 752 366C757.2 363.7 761.2 364 768 361C774.8 358 784.7 352.7 793 348C801.3 343.3 809.7 338 818 333C826.3 328 834.7 322.4 843 318C851.3 313.6 859.7 310.5 868 306.8C876.3 303 884.7 299 893 295.5C901.3 292 909.7 289.2 918 285.5C926.3 281.8 934.7 277.6 943 273C951.3 268.4 959.7 262.2 968 258C976.3 253.8 984.7 250.9 993 248C1001.3 245.1 1013.8 241.8 1018 240.5L1030 237L1030 718L-6 718L-6 323.5Z"/>
<path d="M338.8 12L338.8 20C338.3 22.5 336.6 31.2 336 35C335.4 38.8 333.5 40.7 335 43C336.5 45.3 341.7 47.2 345 49C348.3 50.8 350.8 52.8 355 54C359.2 55.2 365.7 55.3 370 56C374.3 56.7 382.2 56.5 381 58C379.8 59.5 368.5 63 362.5 65C356.5 67 351.2 67.9 345 70C338.8 72.1 330.8 75 325 77.5C319.2 80 315 82.9 310 85C305 87.1 299.6 89.6 295 90C290.4 90.4 287.1 89 282.5 87.5C277.9 86 272.9 83.2 267.5 81C262.1 78.8 255.8 76.5 250 74C244.2 71.5 236 67.1 232.5 66C229 64.9 228.2 65.6 229 67.5C229.8 69.4 234 74.2 237.5 77.5C241 80.8 246.4 83.8 250 87.5C253.6 91.2 257.2 95.8 259 100C260.8 104.2 261 109.2 261 112.5C261 115.8 258.3 117.8 259 120C259.7 122.2 261.5 124.5 265 126C268.5 127.5 274.2 129.2 280 129C285.8 128.8 293.3 126.5 300 125C306.7 123.5 314.6 121 320 120C325.4 119 329.8 119.7 332.5 119C335.2 118.3 337.2 117.5 336 116C334.8 114.5 327 111.8 325 110C323 108.2 322.8 107.1 324 105C325.2 102.9 328.2 100.2 332.5 97.5C336.8 94.8 343.8 91.9 350 89C356.2 86.1 363.3 83.6 370 80C376.7 76.4 385 70.8 390 67.5C395 64.2 397.9 62.5 400 60C402.1 57.5 399.6 55 402.5 52.5C405.4 50 411.7 47.9 417.5 45C423.3 42.1 432.8 37.6 437.5 35C442.2 32.4 442.2 31.1 445.6 29.4C449 27.7 454.1 26.1 458 24.7C461.9 23.3 467.2 21.4 469 20.8L470 12L338.8 12ZM-6 361.5L15.6 362.7C20.8 363.5 36.5 365.6 46.9 367.3C57.3 369 67.7 370.6 78.1 372.8C88.5 375 99.1 377.8 109.4 380.6C119.7 383.4 132.1 386.9 140 389.5C147.9 392.1 151.6 393.8 157 396C162.4 398.2 167.1 400.6 172.7 402.6C178.2 404.6 185.8 406.7 190.3 407.9C194.9 409.1 194.2 408.2 200 410C205.8 411.8 215.7 415.4 225 418.5C234.3 421.6 242.5 424.8 256 428.5C269.5 432.2 289.3 437.7 306 441C322.7 444.3 343.5 446.2 356 448.5C368.5 450.8 372.7 453.3 381 454.8C389.3 456.2 397.7 456.2 406 457.2C414.3 458.3 422.7 460 431 461C439.3 462 442.5 463.7 456 463.5C469.5 463.3 498.5 461.6 512 459.8C525.5 457.9 528.7 454.1 537 452.2C545.3 450.4 553.7 449.8 562 448.5C570.3 447.2 578.7 446 587 444.8C595.3 443.5 603.7 442.2 612 441C620.3 439.8 628.7 438.7 637 437.2C645.3 435.8 653.7 434.3 662 432.2C670.3 430.2 678.7 427.9 687 424.8C695.3 421.6 703.7 417.5 712 413.5C720.3 409.5 730.3 404.6 737 401C743.7 397.4 746.8 394.8 752 392C757.2 389.2 762 387.2 768 384.5C774 381.8 781.3 379.1 788 376C794.7 372.9 798.8 370.7 808 366C817.2 361.3 833 352.7 843 348C853 343.3 859.7 341.3 868 338C876.3 334.7 884.7 330.9 893 328C901.3 325.1 909.7 323.4 918 320.5C926.3 317.6 934.7 314.2 943 310.5C951.3 306.8 959.7 302.2 968 298C976.3 293.8 988.8 287.6 993 285.5L1030 272L1030 718L-6 718L-6 361.5Z"/>
<path d="M-6 398.5L25 403.5C29.2 404.5 41.7 407.2 50 409.8C58.3 412.2 66.7 416 75 418.5C83.3 421 91.7 422.7 100 424.8C108.3 426.8 116.7 428.7 125 431C133.3 433.3 141.7 436.2 150 438.5C158.3 440.8 166.7 442.7 175 444.8C183.3 446.8 191.7 448.7 200 451C208.3 453.3 215.7 456.4 225 458.5C234.3 460.6 246.7 462.2 256 463.5C265.3 464.8 272.7 464.3 281 466C289.3 467.7 297.7 471.4 306 473.5C314.3 475.6 322.7 477.2 331 478.5C339.3 479.8 347.7 479.8 356 481C364.3 482.2 372.7 485.2 381 486C389.3 486.8 397.7 485.6 406 486C414.3 486.4 422.7 487.7 431 488.5C439.3 489.3 447.7 490.2 456 491C464.3 491.8 471.7 492.8 481 493.5C490.3 494.2 502.7 495 512 495C521.3 495 528.7 494.4 537 493.5C545.3 492.6 553.7 491.4 562 489.8C570.3 488.1 578.7 485 587 483.5C595.3 482 603.7 481.4 612 481C620.3 480.6 629.9 480.4 637 481C644.1 481.6 648.2 484.8 654.5 484.8C660.8 484.8 667 483.3 674.5 481C682 478.7 691.2 473.5 699.5 471C707.8 468.5 717.4 468.5 724.5 466C731.6 463.5 736.6 459.8 742 456C747.4 452.2 752.7 446.8 757 443.5C761.3 440.2 762 437.8 768 436C774 434.2 784.7 433.2 793 433C801.3 432.8 809.7 434.2 818 434.8C826.3 435.2 834.7 435.4 843 436C851.3 436.6 859.7 437.7 868 438.5C876.3 439.3 884.7 440.1 893 441C901.3 441.9 910.5 443.5 918 444C925.5 444.5 931.8 445.3 938 444C944.2 442.7 950.5 437.8 955.5 436C960.5 434.2 961.8 434.2 968 433.5C974.2 432.8 988.8 431.8 993 431.5L1030 433L1030 718L-6 718L-6 398.5Z"/>
<path d="M-6 423.5L25 429.8C29.2 430.8 41.7 433.7 50 436C58.3 438.3 66.7 441 75 443.5C83.3 446 91.7 448.7 100 451C108.3 453.3 116.7 455.2 125 457.2C133.3 459.3 141.7 461.6 150 463.5C158.3 465.4 166.7 466.4 175 468.5C183.3 470.6 191.7 473.7 200 476C208.3 478.3 215.7 480.4 225 482.2C234.3 484.1 246.7 485.1 256 487C265.3 488.9 272.7 491.6 281 493.5C289.3 495.4 297.7 496.8 306 498.5C314.3 500.2 324.2 502.7 331 503.9C337.8 505.1 342.9 504.7 346.9 505.5C350.8 506.3 351.6 508.4 354.7 508.6C357.8 508.9 361.7 506.7 365.6 507C369.5 507.3 373.3 509.7 378 510.2C382.7 510.7 388.5 509.7 393.8 510.2C399 510.7 404.2 512.4 409.4 513.3C414.6 514.2 419.8 514.8 425 515.6C430.2 516.4 434.8 517.5 440.6 518C446.4 518.5 453.3 518 460 518.8C466.7 519.5 472.3 520.9 481 522.2C489.7 523.6 502.7 525.8 512 527C521.3 528.2 528.7 529.7 537 529.8C545.3 529.8 553.7 528.1 562 527.2C570.3 526.4 578.7 525.3 587 524.8C595.3 524.2 603.7 523.8 612 524C620.3 524.2 628.7 525.3 637 526C645.3 526.7 653.7 527.4 662 528C670.3 528.6 678.7 529.8 687 529.8C695.3 529.8 703.7 529.5 712 528C720.3 526.5 728.7 523.8 737 521C745.3 518.2 756.8 512.8 762 511C767.2 509.2 762.8 510.7 768 510.5C773.2 510.3 784.7 510.1 793 509.8C801.3 509.4 809.7 508.8 818 508.5C826.3 508.2 834.7 508.2 843 507.8C851.3 507.3 859.7 506.5 868 506C876.3 505.5 884.7 505.1 893 504.8C901.3 504.4 909.7 504.2 918 504C926.3 503.8 935.5 503.8 943 503.5C950.5 503.2 956.8 503.3 963 502.2C969.2 501.2 973.4 498.5 980.5 497.2C987.6 496 1001.3 495.2 1005.5 494.8L1030 494L1030 718L180 718L177.5 712C175.4 711.6 169.6 710 165 709.8C160.4 709.5 156.7 710.4 150 710.2C143.3 710.1 133.3 710 125 709C116.7 708 108.3 705.9 100 704C91.7 702.1 83.3 699.8 75 697.8C66.7 695.7 58.3 693.8 50 691.5C41.7 689.2 29.2 685.2 25 684L-6 675.5L-6 423.5Z"/>
<path d="M-6 455.5L25 461C29.2 462 41.7 465.4 50 467.2C58.3 469.1 66.7 470.4 75 472.2C83.3 474.1 91.7 476.6 100 478.5C108.3 480.4 116.7 481.6 125 483.5C133.3 485.4 141.7 488.1 150 489.8C158.3 491.4 166.7 491.8 175 493.5C183.3 495.2 191.7 497.7 200 499.8C208.3 501.8 215.7 503.8 225 506C234.3 508.2 246.7 511.3 256 513C265.3 514.7 273.7 514.7 281 516C288.3 517.3 295.3 520 300 521C304.7 522 306.8 521.5 309.4 521.9C312 522.2 313.3 522.5 315.6 523.1C317.9 523.8 319.5 525.3 323.4 525.8C327.3 526.2 335.1 525.9 339 525.8C342.9 525.7 344.3 525 346.9 525.3C349.5 525.5 351.6 526.2 354.7 527.3C357.8 528.4 362.2 531.7 365.6 532C369 532.3 372.4 529 375 528.9C377.6 528.8 378.1 530.7 381.2 531.2C384.4 531.8 389.1 531.7 393.8 532C398.4 532.3 405.2 532.5 409.4 532.8C413.6 533.1 416.1 532.8 418.8 533.6C421.4 534.4 421.4 536.2 425 537.5C428.6 538.8 434.8 540.5 440.6 541.4C446.4 542.3 453.3 541.9 460 542.8C466.7 543.6 472.3 545.3 481 546.5C489.7 547.7 502.7 549.2 512 550.2C521.3 551.3 528.7 551.8 537 552.8C545.3 553.7 553.7 556.4 562 556C570.3 555.6 580.8 551.4 587 550.2C593.2 549.1 593.2 548.8 599.5 549C605.8 549.2 616.2 550.2 624.5 551.5C632.8 552.8 641.2 555.2 649.5 556.5C657.8 557.8 666.2 558.4 674.5 559C682.8 559.6 691.2 559.6 699.5 560.2C707.8 560.9 716.2 563 724.5 562.8C732.8 562.5 743.2 560 749.5 559C755.8 558 758.9 557.2 762 557C765.1 556.8 763.7 557.4 768 557.8C772.3 558.1 779.7 559.4 788 559C796.3 558.6 808.8 556 818 555.2C827.2 554.5 834.7 554.7 843 554.5C851.3 554.3 859.7 554.2 868 554C876.3 553.8 884.7 553.7 893 553.5C901.3 553.3 909.7 553.5 918 552.8C926.3 552 934.7 549.7 943 549C951.3 548.3 959.7 548.6 968 548.5C976.3 548.4 988.8 548.5 993 548.5L1030 548.5L1030 665L1005.5 667.8C1001.3 668.4 988.8 670.2 980.5 671.5C972.2 672.8 963.8 674.2 955.5 675.2C947.2 676.3 938.8 676.9 930.5 677.8C922.2 678.6 913.8 679.2 905.5 680.2C897.2 681.3 888.8 682.6 880.5 684C872.2 685.4 861.7 687.6 856 688.6C850.3 689.6 849.4 689.6 846.1 690.3C842.8 690.9 839.4 691.8 836.1 692.5C832.8 693.2 829.5 693.9 826.2 694.6C822.9 695.3 819.2 696.2 816.2 696.9C813.2 697.6 810.7 697.7 807.9 698.6C805.1 699.5 802.6 701.4 799.6 702.4C796.6 703.4 792.9 704.3 789.6 704.9C786.3 705.5 783 706 779.7 706.2C776.4 706.4 773 706.2 769.7 706.1C766.4 706 763.1 706.1 759.8 705.7C756.5 705.3 752.6 704.2 749.8 703.6C747 703 745.4 703 743.2 702.4C741 701.8 738.5 700.8 736.5 700.3C734.5 699.8 733.4 699.3 731.5 699.3C729.6 699.3 726.8 700.5 724.9 700.3C723 700.1 721.6 698.9 719.9 698.3C718.2 697.7 717.1 697 714.9 696.9C712.7 696.8 709.1 697.9 706.6 697.9C704.1 697.9 702 697 700 696.9C698 696.8 696.1 697.2 694.3 697.4C692.5 697.6 691 698.1 689.4 697.9C687.8 697.7 686.1 696.5 684.4 696.3C682.7 696.1 681.1 696.4 679.4 696.6C677.7 696.8 676.1 697.5 674.4 697.4C672.7 697.3 671 696.6 669.4 696.3C667.8 696 666.1 695.6 664.5 695.8C662.9 696 661.2 697.2 659.5 697.4C657.8 697.6 656.2 697.2 654.5 696.9C652.8 696.6 650.9 695.8 649.5 695.8C648.1 695.8 647.6 696.2 646.2 696.6C644.8 697 642.9 698.1 641.2 698.3C639.5 698.5 637.9 698.2 636.2 697.9C634.6 697.6 632.9 696.5 631.3 696.6C629.6 696.7 628 697.7 626.3 698.3C624.6 698.9 623 700.3 621.3 700.3C619.6 700.3 618 698.9 616.3 698.3C614.6 697.7 612.9 696.8 611.3 696.6C609.6 696.4 608 696.9 606.4 697.1C604.8 697.3 603.1 698 601.4 697.9C599.7 697.8 598.1 696.7 596.4 696.6C594.7 696.5 593.1 697 591.4 697.1C589.7 697.2 588 698 586.4 697.4C584.8 696.8 582.9 694.4 581.5 693.3C580.1 692.2 579.5 691.1 578.1 690.8C576.7 690.5 574.9 691 573.2 691.6C571.6 692.2 569.9 694 568.2 694.1C566.5 694.2 564.6 692.4 563.2 692C561.8 691.6 561.6 691.1 559.9 691.6C558.2 692.1 555.4 693.8 553.2 694.9C551 696 549.1 697.5 546.6 698.3C544.1 699.1 541.1 699.3 538.3 699.6C535.5 699.9 530.2 700 530 699.9C529.8 699.8 540 699.3 537 699C534 698.7 521.3 698.3 512 698C502.7 697.7 490.3 697.5 481 697C471.7 696.5 464.3 696.6 456 695.2C447.7 693.9 439.3 690.5 431 689C422.7 687.5 414.3 686.4 406 686C397.7 685.6 389.3 687.2 381 686.5C372.7 685.8 364.3 683.4 356 681.5C347.7 679.6 339.3 676.9 331 675.2C322.7 673.6 314.3 672.8 306 671.5C297.7 670.2 289.3 669.6 281 667.8C272.7 665.9 262.8 661.9 256 660.2C249.2 658.6 245.2 658.7 240 657.8C234.8 656.8 230.8 656.2 225 654.5C219.2 652.8 211.2 649.2 205 647.8C198.8 646.3 192.5 646.4 187.5 646C182.5 645.6 180.4 646.4 175 645.2C169.6 644.1 160.8 640.9 155 639C149.2 637.1 145 635.5 140 634C135 632.5 131.7 631.7 125 630.2C118.3 628.8 106.2 626.6 100 625.2C93.8 623.9 91.7 623 87.5 622C83.3 621 79.6 620.4 75 619.5C70.4 618.6 65 618 60 616.5C55 615 49.6 612.1 45 610.2C40.4 608.4 37.1 606.6 32.5 605.2C27.9 603.9 21.7 602.7 17.5 602C13.3 601.3 9.2 601.2 7.5 601L-6 597L-6 455.5Z"/>
<path d="M-6 173.4L35.2 178.7C41.1 179.6 58.6 182.5 70.3 184C82 185.5 93.8 186.6 105.5 187.5C117.2 188.4 128.9 189.2 140.6 189.2C152.3 189.2 164.1 188.7 175.8 187.5C187.5 186.3 199.3 184.2 211 182.2C222.7 180.1 237.3 177.2 246.1 175.2C254.9 173.1 257.8 171.7 263.7 169.9C269.6 168.1 272.5 166.9 281.3 164.6C290.1 162.2 306.7 159.2 316.5 155.8C326.3 152.4 332.2 148.7 340 144C347.8 139.3 356.4 131.5 363.4 127.6C370.4 123.7 376.7 121.7 382.2 120.5C387.7 119.3 391.9 119.5 396.2 120.5C400.5 121.5 404.1 123.9 408 126.4C411.9 129 416.2 134 419.7 135.8C423.2 137.6 425.9 138 429 137C432.1 136 436.2 132.9 438.4 130C440.6 127.1 440.7 123.1 442 119.4C443.3 115.7 444.7 111.2 446 108C447.3 104.8 448.2 102.7 450 100C451.8 97.3 453.3 94.9 456.5 92C459.7 89.1 464.3 85.9 469 82.5C473.7 79.1 479.5 74.8 484.7 71.6C489.9 68.3 494.2 66.6 500 63C505.8 59.4 513 53.9 519.5 50C526 46.1 532.5 42.9 539 39.5C545.5 36.1 553.7 32.7 558.6 29.8C563.5 26.9 566.8 23.3 568.4 22L571 12L1030 12L1030 200.5L1018 203C1013.8 204.2 998.8 206.8 993 210.5C987.2 214.2 987.2 220.9 983 225.5C978.8 230.1 974.7 233.8 968 238C961.3 242.2 951.3 246.3 943 250.5C934.7 254.7 926.3 258.8 918 263C909.7 267.2 901.3 271.1 893 275.5C884.7 279.9 876.3 284.7 868 289.2C859.7 293.8 851.3 298.2 843 303C834.7 307.8 826.3 313 818 318C809.7 323 801.3 328 793 333C784.7 338 774.8 344.2 768 348C761.2 351.8 758 352.5 752 355.5C746 358.5 738.7 363.2 732 366C725.3 368.8 719.5 369.8 712 372.2C704.5 374.8 695.3 378.1 687 381C678.7 383.9 670.3 387 662 389.8C653.7 392.5 645.3 395 637 397.2C628.7 399.5 620.3 401.6 612 403.5C603.7 405.4 595.3 407 587 408.5C578.7 410 570.3 411.2 562 412.2C553.7 413.3 545.3 414.1 537 414.8C528.7 415.4 525.5 416.4 512 416C498.5 415.6 471.7 413.2 456 412.2C440.3 411.2 428.9 410.7 417.6 410C406.3 409.3 397.8 409.3 388 408C378.2 406.7 370.3 404.6 359 402.3C347.7 400.1 329.8 396.5 320 394.5C310.2 392.5 307 391.6 300 390.3C293 389 284.8 388.1 278.2 386.8C271.6 385.5 266.5 383.9 260.6 382.4C254.7 380.9 248.8 379.6 243 378C237.2 376.4 231.3 374.4 225.5 372.7C219.7 370.9 213.8 369.2 207.9 367.5C202 365.8 196.2 364 190.3 362.2C184.4 360.4 178.5 359.2 172.7 356.9C166.8 354.5 161 351 155.2 348.1C149.3 345.2 143.5 341.7 137.6 339.3C131.7 336.9 126.3 335.7 120 334C113.7 332.3 107.5 331.5 100 329.2C92.5 327 83.3 323.2 75 320.5C66.7 317.8 58.3 315.3 50 313C41.7 310.7 29.2 307.8 25 306.8L-6 303L-6 173.4Z"/>
<path d="M-6 189.2L35.2 192.7C41.1 193.3 58.6 195.1 70.3 196.3C82 197.5 93.8 198.9 105.5 199.8C117.2 200.7 128.9 201.4 140.6 201.5C152.3 201.6 164.1 201.4 175.8 200.5C187.5 199.6 199.3 198.2 211 196.3C222.7 194.4 235.5 191.1 246.1 189.2C256.6 187.3 265.5 185.9 274.3 185C283.1 184.1 291.3 184 298.9 184C306.5 184 314.1 184.7 320 185C325.9 185.3 329.8 185.9 334 185.7C338.2 185.5 345.5 184.9 345 184C344.5 183.1 335.4 181.9 331 180C326.6 178.1 319.8 174.8 318.5 172.5C317.2 170.2 321.4 168.1 323.5 166.4C325.6 164.7 327.5 163.9 331 162.5C334.5 161.1 340.8 160.1 344.6 158C348.4 155.9 350.1 151.4 354 149.8C357.9 148.2 364.5 148.7 368 148.5C371.5 148.3 372.2 148.1 375.2 148.7C378.2 149.3 383.3 151 386 152C388.7 153 389.1 152.1 391.6 154.5C394.1 156.9 399.4 162.7 401 166.2C402.6 169.8 402.6 172.5 401 175.6C399.4 178.7 395.1 182.3 391.6 185C388.1 187.7 382.3 190 379.8 192C377.3 194 376.9 195.2 376.5 197C376.1 198.8 377.7 201 377.5 203C377.3 205 376.7 206.9 375.5 209C374.3 211.1 372.5 213.2 370.5 215.5C368.5 217.8 365.5 221.1 363.5 223C361.5 224.9 360.4 225.1 358.8 227.2C357.1 229.3 355.1 233.2 353.5 235.5C351.9 237.8 350.4 239.2 349.4 241.2C348.4 243.3 347.4 245.2 347.2 248C347.1 250.8 346.2 255.5 348.5 258C350.8 260.5 356.4 260.9 361 263C365.6 265.1 371 267.8 376 270.5C381 273.2 386.8 277.4 391 279.2C395.2 281.1 397.7 281.8 401 281.8C404.3 281.8 408.1 281.5 411 279.2C413.9 277 416 270.1 418.5 268C421 265.9 423.9 266.1 426 266.8C428.1 267.4 427.7 270.3 431 271.8C434.3 273.2 441 273.8 446 275.5C451 277.2 456 279.7 461 281.8C466 283.8 471 286.5 476 288C481 289.5 486 290.5 491 290.5C496 290.5 502.5 288.8 506 288C509.5 287.2 510.2 287 512 285.5C513.8 284 514.5 281.3 517 279.2C519.5 277.2 522.8 275.1 527 273C531.2 270.9 538.7 269 542 266.8C545.3 264.5 547.8 262.4 547 259.2C546.2 256.1 540.2 250.6 537 248C533.8 245.4 530 245.3 527.5 243.6C525 241.9 525.1 239.6 522 238C518.9 236.4 513.7 235.4 508.8 234.2C503.8 233 497 231.1 492.3 230.7C487.6 230.3 484.9 231.9 480.6 231.9C476.3 231.9 471.3 231.5 466.6 230.7C461.9 229.9 455.8 229 452.5 227.2C449.2 225.4 447.4 222.4 446.6 220.1C445.8 217.8 446 215 447.8 213.1C449.6 211.2 451.7 209.4 457.2 208.4C462.7 207.4 474.8 207.3 480.6 207.3C486.5 207.3 486.4 209 492.3 208.4C498.2 207.8 509.9 206.1 515.8 203.8C521.7 201.4 524.8 197.5 527.5 194.4C530.2 191.3 531.8 188.1 532.2 185C532.6 181.9 531.4 179.1 529.8 175.6C528.2 172.1 526.3 168.2 522.8 163.9C519.3 159.6 513.8 155.3 508.8 149.8C503.7 144.3 497 136.5 492.3 131C487.6 125.5 482.1 122.2 480.6 117C479.1 111.8 481.4 104.9 483.5 100C485.6 95.1 490.8 90.4 493.5 87.5C496.2 84.6 495.7 85.3 500 82.5C504.3 79.7 513 74.7 519.5 70.8C526 66.9 532.5 62.6 539 59C545.5 55.4 552.1 52.9 558.6 49.3C565.1 45.7 571.5 42.1 578 37.6C584.5 33.1 594.4 24.6 597.7 22L602 12L1030 12L1030 175L1013 177C1010.5 176.5 1003 175.6 998 174C993 172.4 987.2 169.8 983 167.5C978.8 165.2 976.3 162.1 973 160C969.7 157.9 967.2 155.7 963 155C958.8 154.3 952.2 154.5 948 156C943.8 157.5 942.2 161.7 938 164C933.8 166.3 926.8 167.3 923 170C919.2 172.7 916.3 176.2 915 180C913.7 183.8 914.1 189.7 915 193C915.9 196.3 918.5 197.5 920.5 200C922.5 202.5 926.3 204.2 926.8 208C927.2 211.8 925.3 218 923 223C920.7 228 918 233 913 238C908 243 900.5 247.6 893 253C885.5 258.4 876.3 265.5 868 270.5C859.7 275.5 851.3 278.4 843 283C834.7 287.6 826.3 292.6 818 298C809.7 303.4 801.3 309.8 793 315.5C784.7 321.2 777.3 326.6 768 332C758.7 337.4 748 342.3 737 348C726 353.7 710.3 362.2 702 366C693.7 369.8 693.7 368.9 687 371C680.3 373.1 670.3 376 662 378.5C653.7 381 645.3 383.7 637 386C628.7 388.3 620.3 390.4 612 392.2C603.7 394.1 595.3 395.8 587 397.2C578.7 398.7 570.3 400 562 401C553.7 402 544 402.8 537 403.5C530 404.2 526.9 405.1 520 405.2C513.1 405.3 503.1 404.7 495.8 404.2C488.5 403.7 482.8 402.8 476.3 402.3C469.8 401.8 463.2 401.6 456.7 401.3C450.2 401 441.8 401.1 437.2 400.3C432.6 399.5 432 398.7 429.4 396.4C426.8 394.1 425.2 388.7 421.6 386.6C418 384.5 411.8 385.3 407.9 383.7C404 382.1 400.7 379 398.1 376.9C395.5 374.8 396.5 372.1 392.3 371C388.1 369.9 376.6 371.1 372.7 370C368.8 368.9 368.6 366.3 368.8 364.2C369 362.1 373.4 359.4 373.7 357.3C374 355.2 373.2 353 370.8 351.5C368.4 350 364.2 349 359 348.5C353.8 348 346 348 339.5 348.5C333 349 326.6 350.8 320 351.5C313.4 352.2 307 352.5 300 352.5C293 352.5 284.8 352.2 278.2 351.6C271.6 351 266.5 349.7 260.6 349C254.7 348.3 248.8 348.2 243 347.2C237.2 346.2 231.3 344.1 225.5 342.9C219.7 341.7 213.2 341.2 207.9 340.2C202.6 339.2 197.9 338.6 193.8 336.7C189.7 334.8 186.8 330.7 183.3 328.8C179.8 326.9 176.5 326.8 172.7 325.3C168.9 323.8 164.2 321.6 160.4 320C156.6 318.4 155.9 317.5 150 315.5C144.1 313.5 133.3 310.5 125 308C116.7 305.5 108.3 302.8 100 300.5C91.7 298.2 83.3 296.1 75 294.2C66.7 292.4 58.3 290.9 50 289.2C41.7 287.6 29.2 285.1 25 284.2L-6 281.8L-6 189.2Z"/>
<path d="M-6 201.5L35.2 205C41.1 205.6 59.5 207.7 70.3 208.6C81.1 209.5 86.7 209.3 100 210.5C113.3 211.7 133.3 213.8 150 215.5C166.7 217.2 187.5 218.6 200 220.5C212.5 222.4 218.8 224.7 225 226.8C231.2 228.8 235.2 231.1 237.5 233C239.8 234.9 240 235.9 238.8 238C237.5 240.1 234 243.4 230 245.5C226 247.6 219.2 248.4 215 250.5C210.8 252.6 207.9 255.1 205 258C202.1 260.9 200 265.5 197.5 268C195 270.5 193.8 272.2 190 273C186.2 273.8 181.7 273.2 175 272.5C168.3 271.8 158.3 270.2 150 269C141.7 267.8 133.3 266.9 125 265.5C116.7 264.1 108.3 261.8 100 260.5C91.7 259.2 81.2 258.2 75 258C68.8 257.8 70.8 258.8 62.5 259C54.2 259.2 31.2 259 25 259L-6 258.5L-6 201.5ZM642.6 12L642.6 21C641.6 21.5 640.9 21.8 636.7 23.9C632.5 26 623.7 30.5 617.2 33.7C610.7 37 604.2 39.8 597.7 43.4C591.2 47 584.5 51 578 55.2C571.5 59.4 565.1 63.9 558.6 68.8C552.1 73.7 544.9 79.6 539 84.5C533.1 89.4 527.2 95.5 523.4 98.1C519.6 100.7 517.5 98.4 516 100C514.5 101.6 513.8 103.9 514.2 107.6C514.6 111.3 515.4 117.8 518.6 122.2C521.8 126.6 528.3 130.6 533.2 134C538.1 137.4 543.5 139.8 547.9 142.7C552.3 145.6 556.2 148.6 559.6 151.5C563 154.4 565.5 157.9 568.4 160.3C571.3 162.8 573.3 164.2 577.2 166.2C581.1 168.1 586.9 171.5 591.8 172C596.7 172.5 602.1 170.6 606.5 169.1C610.9 167.6 614.3 163.9 618.2 163.2C622.1 162.5 626 163.2 629.9 164.7C633.8 166.2 637.8 170.3 641.7 172C645.6 173.7 649.5 174.8 653.4 175C657.3 175.2 660.7 175 665.1 173.5C669.5 172 674.8 169.4 679.7 166.2C684.6 163 689.5 158.4 694.4 154.5C699.3 150.6 704.1 147.1 709 142.7C713.9 138.3 718.3 132 723.7 128.1C729.1 124.2 736.1 121.9 741.3 119.3C746.5 116.7 750.5 114.6 755 112.5C759.5 110.4 761.7 107.9 768 106.5C774.3 105.1 784.7 104.7 793 104C801.3 103.3 809.7 102.5 818 102.5C826.3 102.5 834.7 103.6 843 104C851.3 104.4 859.7 104.8 868 105C876.3 105.2 884.7 105.4 893 105C901.3 104.6 912.2 103.3 918 102.5C923.8 101.7 925.9 102.1 928 100C930.1 97.9 928 92.3 930.5 90C933 87.7 936.8 87 943 86C949.2 85 959.7 84.2 968 84C976.3 83.8 984.7 84.7 993 85C1001.3 85.3 1013.8 85.8 1018 86L1030 85L1030 12L642.6 12ZM503.6 330C500.9 332.3 498.7 333.4 495.8 336C492.9 338.6 488.8 342.4 486 345.6C483.2 348.8 480.2 352.9 479.2 355.4C478.2 357.8 478.1 359.3 480.2 360.3C482.3 361.3 488.6 361.4 491.9 361.2C495.1 361.1 498.9 357.7 499.7 359.3C500.5 360.9 496.1 368.2 496.8 371C497.5 373.8 501.1 375 503.6 376C506.1 377 508.1 376.8 512 377.2C515.9 377.7 522 377 527 378.5C532 380 536.2 384.8 542 386C547.8 387.2 554.5 386.6 562 386C569.5 385.4 578.7 383.7 587 382.2C595.3 380.8 603.7 378.9 612 377.2C620.3 375.6 628.7 374.1 637 372.2C645.3 370.4 653.7 368.4 662 366C670.3 363.6 678.7 361.4 687 358C695.3 354.6 703.7 349.7 712 345.5C720.3 341.3 728.4 337.4 737 333C745.6 328.6 754.5 324.5 763.5 319C772.5 313.5 781.9 306.4 791 300C800.1 293.6 810.5 286 818.3 280.7C826.1 275.4 832.6 271.8 838 268C843.4 264.2 848 261.5 850.5 258C853 254.5 854.2 249.5 853 246.8C851.8 244 848.8 242.4 843 241.8C837.2 241.1 826.3 241.8 818 243C809.7 244.2 801.3 247.6 793 249.2C784.7 250.9 776.5 251.1 768 253C759.5 254.9 747.2 260.5 742 260.5C736.8 260.5 742 253.2 737 253C732 252.8 720.3 257.7 712 259.2C703.7 260.8 695.3 262.7 687 262.5C678.7 262.3 667.8 257.9 662 258C656.2 258.1 656.2 260.5 652 263C647.8 265.5 642 269.7 637 273C632 276.3 627 279.9 622 283C617 286.1 612.8 289.7 607 291.8C601.2 293.8 594.5 293.2 587 295.5C579.5 297.8 570.3 300.9 562 305.5C553.7 310.1 543.8 318 537 323C530.2 328 524.5 333.8 521 335.5C517.5 337.2 517.1 335.1 516 333C514.9 330.9 515.2 324.8 514.5 323C513.8 321.2 513.8 320.8 512 322C510.2 323.2 506.3 327.7 503.6 330Z"/>
<path d="M566.4 106C565.8 101.8 567.7 95.5 570.3 90.3C572.9 85.1 577.4 78.9 582 74.7C586.6 70.5 591.8 68.2 597.7 64.9C603.6 61.7 610.7 58.5 617.2 55.2C623.7 52 630.2 48.7 636.7 45.4C643.2 42.1 649.7 38.9 656.2 35.6C662.8 32.4 670.6 28.3 675.8 25.9C681 23.5 685.5 21.8 687.5 21L690 12L1030 12L1030 24L993 31C988 32.3 972.2 35.5 963 39C953.8 42.5 947.2 49.8 938 52C928.8 54.2 915.5 51.8 908 52.5C900.5 53.2 897.2 54.8 893 56C888.8 57.2 887.2 58.7 883 60C878.8 61.3 874.7 63 868 64C861.3 65 851.3 65.2 843 66C834.7 66.8 826.3 67.9 818 69C809.7 70.1 801.3 71.3 793 72.5C784.7 73.7 777.3 74.1 768 76C758.7 77.9 746.3 81.4 737 83.8C727.7 86.1 718.2 88.1 712 90C705.8 91.9 704.4 93.2 700 95.2C695.6 97.2 691.2 99.6 685.5 102C679.8 104.4 672.5 107.2 666 109.8C659.5 112.4 653 115.4 646.5 117.7C640 120 633.5 122.2 627 123.5C620.5 124.8 613.9 125.8 607.4 125.5C600.9 125.2 593.4 123.2 587.9 121.6C582.4 120 577.8 118.3 574.2 115.7C570.6 113.1 567 110.2 566.4 106ZM719.5 310.5C720.8 308.4 725.3 304.9 729.5 303C733.7 301.1 741.6 299.2 744.5 299.2C747.4 299.2 748.2 301.1 747 303C745.8 304.9 741.2 308.4 737 310.5C732.8 312.6 724.9 315.5 722 315.5C719.1 315.5 718.2 312.6 719.5 310.5Z"/>
<path d="M625 80.5C625 78.7 626.3 76.7 628.9 74.7C631.5 72.8 636.1 70.8 640.6 68.8C645.1 66.8 650.1 65.3 656 63C661.9 60.7 668.5 58.6 675.8 55.2C683 51.8 692.2 46.7 699.5 42.5C706.8 38.3 714.5 33.8 719.5 30C724.5 26.2 727.8 21.7 729.5 20L731 12L880 12L878 20C876.3 21.2 873.8 25.2 868 27.5C862.2 29.8 851.3 31.5 843 33.8C834.7 36 826.3 38.8 818 41.2C809.7 43.8 801.3 46.5 793 48.8C784.7 51 777.3 52.7 768 55C758.7 57.3 746.3 60 737 62.5C727.7 65 719 68.3 712 70C705 71.7 701 71.3 695 72.7C689 74.1 682.5 76.6 676 78.6C669.5 80.6 662.5 83 656 84.5C649.5 86 641.5 87.2 637 87.4C632.5 87.6 631 86.6 629 85.4C627 84.2 625 82.3 625 80.5Z"/>
</g>
<g fill="none" stroke="#000" stroke-width="1.1" stroke-linejoin="round"><path d="M13.2 20 L13.7 24.4 L13.2 28.8 L12.1 33.2 L9.9 35.4 L5.5 36.5 L2.2 35.4 L0 35.4 M0 32 L3.3 33.2 L0 34.3 M0 37.6 L5.5 38.7 L7.7 40.8 L9.9 43 L10.4 47.4 L11 51.8 L12.1 53.5 L16.5 52.9 L19.8 51.8 L20.8 50.7 L21.9 52.9 L24.1 55.1 L26.3 57.9 L28.5 57.9 L30.7 57.9 L29.6 60.6 L27.4 62.8 L28.5 65 L25.2 66.1 L21.9 66.1 L18.7 65 L15.4 65 L12.1 67.2 L11.5 70.5 L13.2 73.8 L17.6 72.7 L21.9 71.6 L27.4 71.6 L35.1 71.6 L43.9 70.5 L52.7 70.5 L59.2 69.9 L66.9 69.9 L64.5 72.1 L57.6 74.9 L53.5 75.6 L52.8 80.4 L54.9 83.8 L60.4 84.5 L64.5 80.4 L71.3 79 L75.4 79 L80.9 81.7 L83.7 87.2 L89.2 88.6 L94.7 91.3 L98.8 87.2 L104.3 85.8 L108.4 90 L104.3 94.1 L105.6 98 L108.4 102.3 L113.9 105.1 L119.3 107.8 L122.7 109.9 L126.8 112 L133.7 112.6 L137.8 116.1 L140.5 115.4 L147.3 113.3 L155.5 110.6 L161 107.9 L166.5 107.2 L173.3 109.2 L174.7 112 L178.8 106.5 L177.4 103.1 L180.2 99.6 L182.9 94.2 L182.2 90.1 L182.9 81.9 L188.4 77.8 L193.8 79.8 L202 79.8 L213 81.2 L222.5 81.9 L225.3 84.6 L236.2 88.7 L245.8 92.1 L252.6 94.9 L259 97 L268 106 L277 113.8 L288.2 118.3 L297.2 121.7 L306.2 118.3 L317.4 117.2 L328.6 116 L335.4 114.9 L342.1 112.7 L348.8 110.4 L353.3 108.2 L356.7 111.6 L360.1 107.1 L362.3 103.7 L369 97 L378 90.2 L387 83.5 L396 81.2 L405 84.6 L411.7 86.8 L420.7 91.3 L427.5 94.7 L434.6 91.7 L440.3 88.8 L442.2 85.9 L448 84 L457.6 79.2 L461.4 76.3 L467.2 77.3 L471 83 L472 90.7 L467.2 93.6 L457.6 98.4 L449.9 106.1 L453.8 113.8 L458.6 121.4 L457.6 127.2 L451.8 131 L449.9 136.8 L447 144.5 L449.9 148.3 L455.7 152.2 L456.6 159.8 L455.7 167.5 L454.7 175.2 L455.7 182.9 L457.6 190.6 L459.1 190 L453.9 200.4 L446.1 205.7 L442.2 216.1 L438.3 229.1 L434.4 231.7 L430.4 244.8 L425.2 255.2 L420 263 L414.8 272.2 L413.5 283.9 L407 286.5 L404.4 299.6 L399.1 317.8 L391.3 336.1 L380.9 351.8 L370.4 362.2 L360 367.4 L350.9 371 L341.5 373.4 L332.2 372.2 L322.8 369.8 L315.8 367.5 L308.7 368.7 L299.4 373.4 L287.6 375.7 L280.6 371 L271.2 365.2 L268.9 371 L261.9 374.5 L254.8 367.5 L245.5 362.8 L247.8 358.1 L250.1 352.3 L243.1 353.4 L233.7 355.8 L224.4 353.4 L215 349.9 L208 348.7 L198.6 349.9 L186.9 351.1 L177.5 353.4 L172.8 354.6 L171.6 360.5 L168.1 365.2 L161.1 366.3 L156.2 362.7 L151.6 365.8 L146.9 370.5 L140.6 372.8 L132.8 378.3 L125 382.2 L114 386.9 L104.7 387.7 L96.9 384.5 L90.6 380.6 L78.1 376.7 L71.9 374.4 L67.2 375.9 L59.4 374.4 L45.3 372.8 L43.8 367.3 L34.4 369.7 L25 368.1 L20.3 365.8 L16.4 359.5 L10.9 359.5 L4.7 358.8 L0 357.2 M182.2 358.1 L191.6 354.6 L200.9 352.3 L210.3 351.1 L209.1 354.6 L200.9 355.8 L191.6 358.1 L183.4 359.3 L182.2 358.1 M2.2 77.1 L8.8 77.1 L16.5 77.1 L17.6 79.3 L12.1 81.4 L6.6 83.6 L2.2 83.6 L1.1 81.4 L2.2 77.1 M19.8 85.8 L21.9 84.7 L32.9 82.5 L36.2 83.6 L35.1 86.9 L30.7 88 L25.2 89.1 L20.8 89.1 L19.8 85.8 M39.5 82.5 L52.7 82 L54.9 84.7 L51.6 85.8 L41.7 85.8 L39.5 82.5 M0 71.6 L2.2 72.7 L1.1 74.9 M4 55.8 L5 56.6 L4 57 M4 68 L5 68.6 L4.2 69 M6.6 92.4 L9.9 91.9 L10.4 94.1 L7.7 94.6 L6.6 92.4 M39.5 92.4 L42.8 90.2 L43.9 94.6 L41.7 95.7 L39.5 92.4 M49.4 92.4 L52.7 91.9 L53.2 94.1 L49.9 94.4 L49.4 92.4 M15 99 L19 98.5 L22 102.5 L18 103.5 L15 99 M26 110.5 L31 110 L31.5 112 L26.5 112.5 L26 110.5 M35.7 114.7 L39.8 110.6 L48 105.1 L54.9 102.3 L63.1 100.3 L63.8 103.7 L60.4 109.2 L56.2 116.1 L54.9 119.5 L49.4 120.2 L43.9 125.7 L39.8 128.4 L36.4 125.7 L37.7 120.2 L35.7 115.4 M11 132.5 L12.3 133.9 L9.6 139.4 L8.2 143.5 L12.3 149 L8.2 150.4 L6.2 153.1 L4.1 147.6 L3.4 143.5 L6.9 140.8 L8.9 135.3 L11 132.5 M192.5 20 L197.5 26.2 L200 27.5 L203.8 23.8 L205 21.2 M222.5 22.5 L227.5 22.5 L232.5 27.5 L240 35 L237.5 38.8 L230 40 L226.2 35 L223.8 28.8 L222.5 22.5 M269.9 169.8 L274.9 172.3 L283.2 165.7 L291.5 164.5 L299.8 166.1 L303.1 163.2 L304 154.9 L306.4 154.9 L316.4 156.2 L333 156.9 L341.3 154.9 L352.9 150.7 L366.2 146.6 L379.5 141.6 L388.6 139.1 L376.2 144.9 L366.2 149.9 L359.6 154.9 L354.6 159.8 L353.8 166.5 L359.6 171.5 L362.9 176.4 L356.2 176.4 L349.6 173.1 L343 173.1 L339.6 178.1 L338 182.3 L329.7 184.7 L321.4 187.2 L313.1 188.1 L308.1 191.4 L306.4 196.4 L304.8 191.4 L299.8 190.6 L294.8 191.4 L288.2 190.6 L279.9 188.1 L274.9 183.1 L271.6 174.8 L269.9 169.8 M386 533 L389 532.5 L391 534.5 L388 535.5 L386 533 M392.5 534 L394.5 533.5 L395.5 535.5 L393 536 L392.5 534 M354.5 555 L357 555.5 L358.5 557.5 L356 557.5 L354.5 555 M487 648 L490 645 L494 647 L497 652 L502 655 L506 659 L504 662 L499 660 L494 656 L489 653 L487 648 M500 650 L502 649.5 L503 651.5 L501 652 L500 650 M1026 386 L1018 383.5 L1013 382.2 L1008 384.8 L1008 387.2 L1009.2 391 L1013 393.5 L1018 392.2 L1026 391 M437 282.6 L440.9 282.6 L442.2 286.5 L439.6 290.4 L437 287.8 L437 282.6 M431.7 343.9 L438.3 340 L439.6 346.5 L437 359.6 L433.1 363.5 L429.1 359.6 L430.4 349.1 L431.7 343.9 M429 367 L434 366 L435.7 372.6 L430.4 373.9 L429 367 M272.1 409.4 L276.5 409.4 L279.8 414.9 L284.1 418.2 L281.9 420.4 L277.6 418.2 L273.2 413.8 L272.1 409.4 M285.2 430.2 L279.8 434.6 L275.4 443.4 L274.3 452.2 L279.8 458.8 L286.3 465.4 L288.5 476.3 L290.7 485.1 L297.3 496.1 L303.9 504.9 L310.5 513.6 L315.6 518.8 L323.4 526.6 L331.2 534.4 L332.8 540.6 L336 542.2 L334.4 546.9 L336.7 551.6 L340.6 559.4 L345.3 567.2 L350 573.4 L351.6 580 L356 586.5 L357.2 596.5 L356 601.5 L361 609 L371 626.5 L381 641.5 L391 656.5 L398.5 671.5 L406 686.5 L411 696.5 L416 712 M285.2 432.4 L286.3 439 L290.7 447.8 L292.9 456.6 L297.3 465.4 L303.9 471.9 L310.5 478.5 L314.9 487.3 L317.1 496.1 L319.3 504.9 L325.8 511.4 L335.9 518.8 L340.6 525 L346.9 531.2 L354.7 535.9 L362.5 543 L370.3 545.3 L373.4 540.6 L379.7 533.6 L380.5 528.1 L379.6 520 L382.9 511.4 L387.3 500.5 L391.7 487.3 L393.9 474.1 L398.3 463.2 L402.7 455.5 M407.1 454.4 L406 461 L403.8 474.1 L400.5 487.3 L398.3 500.5 L396.1 511.4 L395 520 L390.6 523.4 L389 528.1 L392.2 526.6 L400 527.3 L409.4 527.3 L418.8 529.7 L421.9 533.6 L425 539 L434 551 L445 566 L455 580 L463.5 591 L476 609 L488.5 631.5 L496 635.2 L497.2 641.5 L491 644 L486 652.8 L496 659 L506 662.8 L512 664 L517 664 L524.5 679 L525.8 689 L522 696.5 L524.5 701.5 L528 712 M824.2 208.3 L827.2 210.6 L830.2 216.6 L836.2 221.1 L840.8 224.2 L843.8 228.7 L845.3 233.2 L843.8 239.2 L840.8 240.8 L833.2 240 L827.2 234.7 L824.2 227.2 L822.6 219.6 L821.9 213.6 L824.2 208.3 M838.5 254.3 L840.8 255.8 L842.3 258.9 L848.3 260.4 L849.1 263.4 L845.3 266.4 L842.3 264.9 L840.8 262.6 L836.2 261.9 L834 259.6 L837 257.4 L838.5 254.3 M846 271 L846.8 275.5 L849.8 277 L852.8 281.5 L855.8 287.5 L861.9 290.6 L864.9 293.6 L863.4 298.1 L858.9 301.1 L854.3 299.6 L851.3 298.1 L845.3 296.6 L842.3 292.1 L840.8 286 L842.3 281.5 L843.8 278.5 L845.3 275.5 L846 271 M575.6 41.4 L580.5 38.1 L583 39.8 L585.5 38.9 L584.7 42.2 L589.6 43.1 L596.2 39.8 L598.7 33.2 L599.5 31.5 L601.1 36.5 L604.4 36.5 L607.7 33.2 L610.2 28.2 L614.3 26.6 L613.5 33.2 L611 36.5 L604.4 39.8 L597.8 43.1 L591.2 48 L587.9 49.7 L583.8 46.4 L579.7 45.5 L575.6 41.4 M572.3 105.7 L573.9 109 L571.5 111.4 L568.2 112.3 L564.9 115.6 L564.1 118.8 L566.5 122.1 L571.5 125.4 L576.4 128.7 L579.7 132 L581.4 133.7 L586.3 130.4 L591.2 129.6 L587.9 127.9 L584.7 126.3 L581.4 127.1 L576.4 123.8 L571.5 120.5 L569 117.2 L569.8 113.9 L572.3 110.6 L572.3 105.7 M947 49 L949 46.5 L950.5 49 L948.5 52 L947 49 M951.5 46 L953.5 45 L955 47.5 L952.5 48.5 L951.5 46"/><path stroke-width="0.9" d="M370.4 363.5 L373 372.6 L376.3 377.6 L382.9 395.1 L386.2 408.3 L391.7 421.5 L397.2 434.6 L401.6 447.8 L402.7 455.5 M438.3 289.1 L437 299.6 L438.3 315.2 L437 330.9 L435.7 341.3 M433 374 L431 385 L425 392 L419.1 399.5 L416.9 414.9 L413.6 425.8 L409.3 439 L407.1 454.4 M407.1 463.2 L420 465.4 L463.5 471 L498.5 437.2 L512 435 L537 429.8 L544.5 412.2 L562 403.5 L557.7 400 L533.6 376.2 L509.4 353.6 L575.8 337 L613.6 327.9 L621.1 321.9 L628.6 315.8 L624.1 309.8 L613.6 311.3 L615.1 303.8 L603 258.5 M621.1 321.9 L684.5 330.9 L740 361.1 L768 373.5 L808 403.5 L855.5 436 L905.5 471 L993 478 L1000.5 476 L1024 479.8 M1000.5 476 L1018 453.5 L1024 443.5 M438.3 291.7 L451.3 290.4 L459.1 294.3 L464.3 299.6 L472.2 304.8 L485.3 308.3 L503.4 311.3 L603 258.5 L702.6 207.2 L714.7 204.1 L719 200 L722.2 190.9 L728.5 171.9 L731.6 152.9 L733.2 133.9 L730.1 121.3 L731.6 105.4 L741.1 95.9 L760.1 92.8 L775.9 80.1 L787 67.5 L785.4 61.1 M461 195 L476.2 192.1 L482.3 195.1 L488.3 204.1 L489.8 213.2 L485.3 219.2 L476.2 228.3 L479.2 232.8 L467.2 235.8 L458.1 243.4 L461.1 249.4 L452.1 261.5 L440 264.5 L435.7 268.3 L430.4 273.5 L420 272.2 L414.8 272.2 M459.5 192.5 L469.1 192.5 L476.8 190.6 L480.6 194.4 M457.6 127.2 L469.1 131 L478.7 123.4 L479.7 111.8 L494.1 110.9 L490.2 104.2 L489.3 96.5 L494.1 81.1 L500 82.5 L513.7 88.4 L519.5 89.3 L533 87 L548.8 84.5 L563 80 L573 77 L580 77 L588 79 L596 86 L604 87.5 L613 87 L625 89 L636.7 86.4 L656.2 82.5 L675.8 76.6 L695.3 70.8 L700 67.5 L725.3 67.5 L747.5 64.3 L779.1 56.4 L785.4 61.1 L801.3 54.8 L807.6 53.2 L826.6 56.4 L842.4 59.6 L860 61.6 L869.6 56.8 L877.6 58.4 L880.8 62.4 L879.2 66.4 L880.8 69.6 L885.6 72.8 L890.4 68 L898.4 64 L904.8 63.2 L909.6 62.4 L911.2 57.6 L906.4 53.6 L900 48.8 L899.2 40.8 L898.4 34.4 L893.6 32 L887.2 29.6 L881.6 24.8 L880.8 20 M909.6 62.4 L912.9 68 L916.1 74.5 L914.5 80.9 L919.3 84.1 L922.5 88.9 L924.1 95.3 L925.7 101.7 L934.3 103 L937.4 112.1 L940.4 121.1 L949.4 124.2 L958.5 130.2 L970.6 130.2 L979.6 131.7 L988.7 133.2 L982.6 136.2 L973.6 139.2 L970.6 145.3 L976.6 154.3 L979.6 163.4 L976.6 169.4 L967.5 170.9 L961.5 178.5 L955.5 187.5 L952.5 196.6 L946.4 199.6 L943.4 205.7 L949.4 211.7 L946.4 220.8 L943.4 226.8 L949.4 232.8 L955.5 238.9 L961.5 244.9 L967.5 247.9 L973.6 254 L976.6 263 L976.6 272.1 L979.6 278.1 L994.7 281.1 L1006.8 290.2 L1018.9 299.2 L1026 303 M924.1 20 L925.7 28 L933.7 32.8 L935.3 40.8 L938.5 50.4 L936.9 55.2 L940.1 60 L946.5 64.8 L951.3 63.2 L956.1 56.8 L962.5 56 L967.3 52.8 L962.5 47.2 L957.7 40.8 L962.5 38.4 L956.1 32.8 L946.5 31.2 L943.3 26.4 L944.9 20"/><path stroke-width="1.1" stroke="#2a2a2a" stroke-opacity="0.8" stroke-dasharray="1.1 3" d="M23.3 44.7 L34.3 46.1 L41.2 47.4 L52.1 48.1 L57.6 47.4 L63.1 44 L68.6 42.6 L74.1 44.7 L79.6 46.1 L82.3 48.8 M90.3 56.1 L97.2 62.1 L105.8 69.8 L110.9 75 L117.8 75 L124.7 71.6 L131.6 71.6 L138.4 75 L143.6 71.6 L148.8 63 L155.6 60.4 L165.9 57 L176.3 59.5 L186.6 60.4 L196.9 58.7 L203.8 53.5 L214.1 51.8 L222.7 49.2 L224.4 40.6 L222.7 35.5 L226.1 30.3 M129.8 45.8 L131.6 40.6 L138.4 35.5 L145.3 32.9 L153.9 32.9 L162.5 30.3 L172.8 30.3 L183.1 36.3 L190 38.9 L193.4 44.1 L200.3 50.9 L203.8 53.5 M121.3 64.7 L124.7 59.5 L129.8 54.4 L131.6 45.8 M123 99 L131.6 88.8 L135 80.2 L138.4 75 M222.7 50.9 L234.7 54.4 L245 57 L250 59.5 L260.3 64.7 L267.2 69.8 L272.3 76.7 L277.5 83.6 L282.7 86.2 L293 85.3 L301.6 83.6 L310.2 80.2 L318.8 75.9 L327.3 73.3 L335.9 70.7 L346.3 69 L356.6 65.5 L363.4 62.1 L368.6 61.3 L373.8 59.5 M286.1 71.6 L289.5 64.7 L294.7 59.5 L301.6 52.7 L311.9 47.5 L322.2 45.8 L332.5 44.9 M335.9 40.6 L346.3 39.8 L349.7 44.1 L353.1 49.2 L360 54.4 L363.4 59.5 L365.2 63 M366.9 22.6 L373.8 26.9 L378.9 33.8 L380.6 40.6 L378.9 47.5 L382.3 52.7 L387.5 54.4 L396.1 51.8 L401.3 47.5 L401.3 40.6 L404.7 35.5 L413.3 33.8 L421.9 28.6 L430.5 31.4 L441.1 31.4 L455.2 27 L467.5 21.8 M401.3 54.4 L404.7 61.3 L409.8 69.8 L412.4 76.7 L413.3 83.6 M279.2 88.8 L282.7 95.6 L284.4 100 M310.2 85.3 L315.3 90.5 L317 95.6 M478 23.5 L478 34.1 L474.5 37.6 L469.2 37.6 L463.9 41.1 L460.4 46.4 L457.8 53.4 L457.8 56.9 L462.2 60.4 L463.9 65.7 L460.4 71 L457.8 74.5 M472.7 51.6 L486.8 52.5 L495.6 55.2 L502.6 56.9 L511.4 55.2 L522 53.4 L534.3 51.6 L543 50.8 L553.6 49 L560.6 48.1 L569.4 49 L574.7 49.9 L581.7 48.1 M534.3 37.6 L543 30.5 L546.6 23.5 L548.3 20 M557.1 51.6 L555.4 60.4 L557.1 67.5 L562.4 74.5 L564.1 79.8 M460.4 72.7 L467.5 71.9 L476.2 72.7 L485 74.5 L493.8 76.2 L500.9 72.7 L507.9 71 L514.9 74.5 L522 78 L529 83.3 L534.3 86.8 L536 90.3 M592.3 88.6 L595.8 93.8 L597.5 97.3 M638.4 90.5 L653.6 98.1 L656.2 105.7 L653.6 110.8 L651.1 118.4 L648.6 133.6 L641 146.3 L630.8 156.5 L625.7 161.6 M656.2 105.7 L668.9 115.9 L681.6 123.5 L694.3 133.6 L707 141.3 L722.2 143.8 L732.4 143.8 M580 154 L595.2 155.2 L610.5 157.8 L625.7 161.6 L633.3 169.2 L638.4 176.8 L646 187 L653.6 197.1 M727.3 165.4 L745.1 169.2 L757.8 173 L773 175.5 L793.3 174.3 L808.5 169.2 L821.2 169.2 M793.3 174.3 L793.3 187 L798.7 197.3 L811.6 202.5 L816.7 207.7 L821.9 212.8 M821.2 169.2 L818.7 156.5 L813.6 148.9 L823.8 143.8 L833.9 138.7 L840 133.6 M793.3 75.2 L800.9 82.9 L808.5 86.7 L821.2 85.4 L833.9 77.8 L840 75.2 M595.2 85.4 L597.8 93 L595.2 103.2 L585.1 108.2 L580 107 M668.9 60 L674 70.2 L676.5 75.2 M760 175.4 L775.5 175.4 L793.5 174.1 M834.8 150.9 L842.5 163.8 L858 174.1 L873.4 181.9 L886.3 189.6 L899.2 194.8 L904.4 197.3 L912.1 189.6 L919.8 181.9 L914.7 171.6 L909.5 166.4 L904.4 158.7 L907 150.9 L909.5 140.6 L909.5 135.5 L914.7 130.3 L919.8 127.7 M834.8 150.9 L845.1 150.9 L855.4 145.8 L860.5 135.5 L876 131.6 L894.1 130.3 L904.4 129 L914.7 130.3 M899.2 194.8 L896.6 202.5 L894.1 210.2 L888.9 223.1 L886.3 233.4 L888.9 243.7 L891.5 254.1 L883.7 256.6 L873.4 254.1 L863.1 246.3 L852.8 241.2 L845.1 238.6 M891.5 254.1 L896.6 264.4 L888.9 269.5 L876 266.9 L863.1 269.5 L850.2 274.7 L842.5 285 L837.3 292.7 M979.1 161.2 L992 171.6 L1007.5 184.5 L1024 187 M930.1 197.3 L940.5 189.6 L950.8 176.7 L961.1 169 M963.7 225.7 L979.1 223.1 L992 228.3 L1004.9 233.4 L1024 230.9 M896.6 274.7 L914.7 269.5 L927.6 270.8 L945.6 272.1 M498.4 108.2 L501.2 116.5 L509.4 127.4 L514.9 135.7 L517.6 143.9 L517.6 152.1 L531.3 149.4 L547.8 150.8 L564.3 152.1 L578 153.5 M517.6 152.1 L514.9 154.9 L495.7 153.5 L481.9 152.1 L479.2 141.2 L473.7 135.7 L471 141.2 L468.2 149.4 L471 154.9 L471 171.3 L468.2 182.3 L476.5 179.6 L492.9 179.6 L509.4 180.9 L525.8 176.8 L536.8 172.7 L547.8 170 L558.8 174.1 L564.3 178.2 L572.5 172.7 L580.7 168.6 M564.3 130.2 L565.6 143.9 L575.2 154.9 L578 165.8 M488.3 213.2 L506.4 216.2 L524.5 228.3 L539.6 240.4 L554.7 252.4 L569.8 264.5 L581.9 270.6 M642.2 183 L657.3 198.1 L675.4 219.2 M452.1 261.5 L458.1 270.6 L479.2 270.6 L500.4 267.5 L518.5 276.6 L536.6 291.7 M558.9 345.8 L555.7 358.4 L562 371 L574.7 383.6 L599.9 382.1 L622 380.5 L644.1 383.6 L669.3 390 L700.9 391.5 L716.7 394.7 L732.4 402.6 L748.2 412 L760.8 424.7 L748.2 434.1 L732.4 443.6 L716.7 453.1 L704 462.5 L700.9 481.5 L694.6 487.8 L678.8 494.1 L663 500.4 L644.1 506.7 L628.3 513 L615.7 519.3 L599.9 522.5 L574.7 519.3 L558.9 513 L552.6 503.6 L549.4 494.1 L546.3 487.8 M480 503.6 L495.8 502 L511.6 500.4 L527.3 502 L536.8 503.6 L543.1 494.1 L546.3 487.8 M694.6 487.8 L707.2 492.5 L732.4 487.8 L754.5 489.4 L776.6 490.9 L795.6 500.4 M615.7 519.3 L631.5 525.6 L644.1 532 L653.6 544.6 L659.9 560 M823 366 L818 378.5 L810.5 396 M905.5 366 L898 381 L888 393.5 L878 406 L873 418.5 L865.5 431 L863 436 M958 366 L958 386 L968 388.5 L988 391 L998 398.5 L1000.5 403.5 L1008 416 L1010.5 426 L1008 441 L1005.5 456 L1003 471 L993 481 L980.5 483.5 L968 486 L955.5 493.5 L948 506 L943 516 L935.5 528.5 L930.5 539 M1000.5 403.5 L1013 401 L1024 398.5 M768 491 L783 493.5 L798 502.2 L818 503 L823 511 L838 516 L855.5 511 L860.5 516 L868 528.5 L873 539 L875.5 539 L893 544 L905.5 551.5 M256 417.2 L288.5 418.5 L298.5 416 L298.5 433.5 L326 436 L356 441 L381 451 L403.5 453.5 M287 378.5 L288.5 403.5 L293.5 416 M263.5 381 L261 396 L258.5 398.5 M256 483.5 L268.5 481 L283.5 476 M135 378.5 L135 411 L140 418.5 L155 428.5 L165 433.5 L175 423.5 L195 411 L200 398.5 L195 386 L195 376 L200 366 L217.5 371 L220 386 L217.5 398.5 L220 421 L220 441 L250 441 L252.5 423.5 L250 411 L256 406 M145 381 L150 368.5 L155 366 M165 433.5 L150 448.5 L135 458.5 L120 471 L105 481 L95 488.5 L82.5 493.5 L65 496 L45 503.5 L35 516 L25 539 L18.7 548.2 M145 476 L160 478.5 L175 481 L190 476 L200 466 L207.5 456 L210 448.5 L207.5 443.5 L190 446 L175 451 L160 463.5 L150 471 L145 476 M250 441 L250 466 L252.5 481 M0 550.1 L186.6 550.1 L201.6 552 M85.9 548.2 L93.3 537.1 L112 529.6 L126.9 518.4 L138.1 507.2 L141.8 492.3 L143.7 477.3 L156.8 466.1 L175.4 454.9 L194.1 445.6 L203.4 443.7 M145.6 492.3 L168 492.3 L186.6 494.1 M201.6 552 L197.8 533.3 L196 514.7 L197.8 503.5 L203.4 488.5 L209 477.3 L212.8 466.1 L212.8 454.9 L207.2 445.6 L205.3 440 M186.6 552 L197.8 566.9 L212.8 578.1 L224 589.3 L238.9 604.2 L253.8 619.2 L268.8 630.4 L283.7 634.1 L294.9 637.8 L291.2 649 L283.7 656.5 L287.4 667.7 L298.6 678.9 L306.1 697.6 L309.8 712 M201.6 552 L209 563.2 L224 574.4 L231.4 585.6 L246.4 596.8 L261.3 615.4 L272.5 624.8 L291.2 622.9 L302.4 630.4 L298.6 649 L291.2 660.2 L294.9 671.4 L302.4 686.4 L306.1 712 M220.2 440 L250.1 440 L250.1 477.3 L261.3 481.1 L287.4 475.5 M141.8 477.3 L171.7 481.1 L194.1 477.3 L216.5 469.9 L220.2 462.4 M512 566.5 L522 564 L537 569 L549.5 564 L554.5 566.5 L559.5 579 L572 584 L579.5 591.5 L587 590.2 L594.5 590.2 L602 589 L612 596.5 L624.5 600.2 L637 599 L649.5 597.8 L657 600.2 L662 592.8 L669.5 581.5 L674.5 576.5 L667 571.5 L662 564 L659.5 556.5 L654.5 544 L652 539 M657 600.2 L655.8 611.5 L659.5 616.5 L662 624 L660.8 639 L662 654 L664.5 669 L672 670.2 L687 666.5 L699.5 662.8 L707 656.5 L724.5 655.2 L737 657.8 L747 661.5 L749.5 674 L752 684 L762 689 L767 699 M737 657.8 L757 651.5 L764.5 644 L768 636.5 L775.5 634 L775.5 624 L785.5 621.5 L793 611.5 L805.5 601.5 L818 594 L830.5 589 L838 576.5 L850.5 571.5 L865.5 567.8 L875.5 574 L885.5 579 L895.5 579 L903 572.8 L908 564 L904.2 556.5 L905.5 551.5 M512 599 L524.5 604 L522 614 L524.5 624 L537 631.5 L549.5 644 L557 659 L563.2 662.8 L563.2 679 L563.2 691.5 L549.5 699 L537 704 L527 712 M903 572.8 L913 584 L900.5 594 L890.5 604 L890.5 616.5 L900.5 629 L905.5 639 L908 649 L905.5 656.5 L888 656.5 L873 656.5 L863 666.5 L843 675.2 L830.5 679 L823 689 L823 699 L805.5 702.8 L793 701.5 L780.5 699 L773 704 L770.5 712 M918 554 L930.5 566.5 L943 574 L955.5 579 L968 589 L980.5 591.5 L993 596.5 L1003 604 L1018 604 L1024 606.5 M0.3 360 L0.3 712 M0 21.5 L1024 21.5 M0 711.2 L1024 711.2"/></g>
</g></svg></div></body></html>
